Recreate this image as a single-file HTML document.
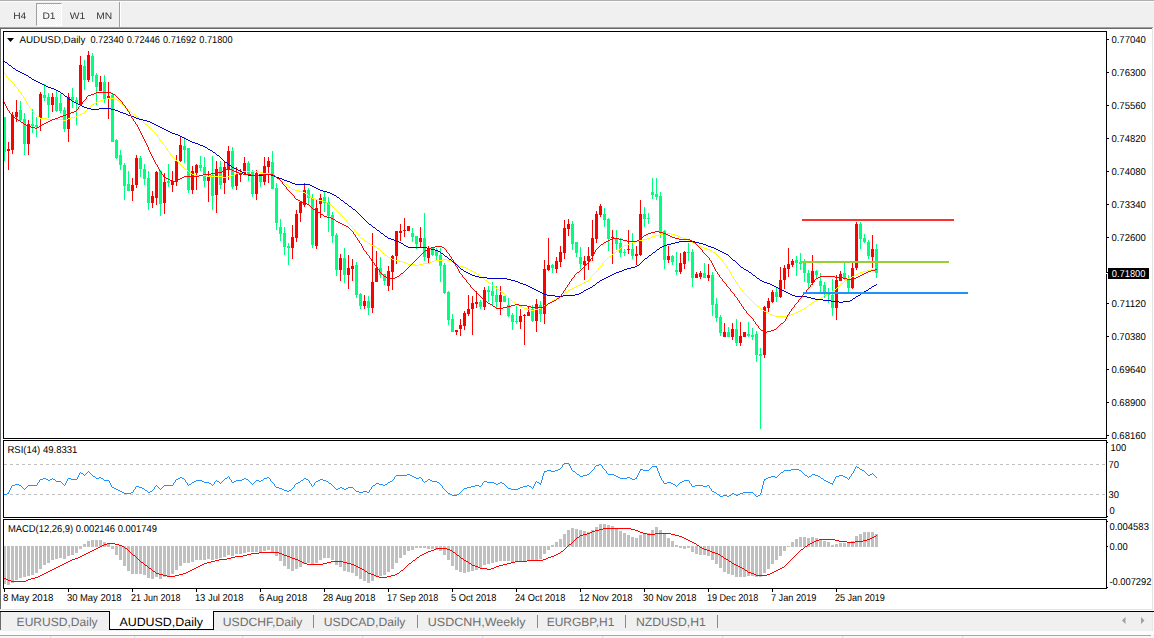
<!DOCTYPE html>
<html><head><meta charset="utf-8"><title>AUDUSD,Daily</title>
<style>
html,body{margin:0;padding:0;}
body{width:1154px;height:638px;overflow:hidden;background:#f0f0f0;font-family:"Liberation Sans",sans-serif;position:relative;}
.abs{position:absolute;}
.t{position:absolute;white-space:nowrap;color:#000;font-size:9.4px;line-height:10px;height:10px;}
.tf{position:absolute;white-space:nowrap;color:#222;font-size:10px;line-height:12px;}
.tab{position:absolute;white-space:nowrap;color:#6e6e6e;font-size:12px;line-height:14px;top:615px;}
</style></head><body>

<div class="abs" style="left:0;top:0;width:1154px;height:1px;background:#b0b0b0"></div>
<div class="abs" style="left:0;top:1px;width:1154px;height:1px;background:#fbfbfb"></div>
<div class="abs" style="left:36px;top:3px;width:24px;height:21px;background-color:#fff;background-image:conic-gradient(#fff 25%,#f0f0f0 0 50%,#fff 0 75%,#f0f0f0 0);background-size:2px 2px;border-top:1px solid #a0a0a0;border-left:1px solid #a0a0a0;border-right:1px solid #fff;border-bottom:1px solid #fff"></div>
<div class="abs" style="left:119px;top:2px;width:1px;height:25px;background:#a0a0a0"></div>
<div class="abs" style="left:120px;top:2px;width:1px;height:25px;background:#fff"></div>
<div class="abs" style="left:0;top:27px;width:1153px;height:1px;background:#a0a0a0"></div>
<div class="abs" style="left:0;top:28px;width:1152px;height:1px;background:#696969"></div>
<div class="abs" style="left:0;top:29px;width:1px;height:580px;background:#696969"></div>
<div class="abs" style="left:1px;top:29px;width:1151px;height:582px;background:#fff"></div>
<div class="abs" style="left:1152px;top:29px;width:1px;height:581px;background:#e3e3e3"></div>
<div class="abs" style="left:1153px;top:27px;width:1px;height:584px;background:#fff"></div>
<div class="abs" style="left:0;top:609px;width:1153px;height:1px;background:#e3e3e3"></div>
<div class="abs" style="left:0;top:610px;width:1154px;height:1px;background:#fff"></div>
<svg class="abs" style="left:0;top:0" width="1154" height="638" viewBox="0 0 1154 638" shape-rendering="crispEdges">
<line x1="4" y1="464.5" x2="1106" y2="464.5" stroke="#c0c0c0" stroke-width="1" stroke-dasharray="3,3"/>
<line x1="4" y1="494.5" x2="1106" y2="494.5" stroke="#c0c0c0" stroke-width="1" stroke-dasharray="3,3"/>
<rect x="1107" y="39" width="2" height="1" fill="#000"/>
<rect x="1107" y="72" width="2" height="1" fill="#000"/>
<rect x="1107" y="105" width="2" height="1" fill="#000"/>
<rect x="1107" y="138" width="2" height="1" fill="#000"/>
<rect x="1107" y="171" width="2" height="1" fill="#000"/>
<rect x="1107" y="204" width="2" height="1" fill="#000"/>
<rect x="1107" y="237" width="2" height="1" fill="#000"/>
<rect x="1107" y="303" width="2" height="1" fill="#000"/>
<rect x="1107" y="336" width="2" height="1" fill="#000"/>
<rect x="1107" y="369" width="2" height="1" fill="#000"/>
<rect x="1107" y="402" width="2" height="1" fill="#000"/>
<rect x="1107" y="435" width="2" height="1" fill="#000"/>
<rect x="1107" y="442" width="1" height="1" fill="#000"/>
<rect x="1107" y="516" width="1" height="1" fill="#000"/>
<rect x="1107" y="521" width="1" height="1" fill="#000"/>
<rect x="1107" y="546" width="1" height="1" fill="#000"/>
<rect x="1107" y="587" width="1" height="1" fill="#000"/>
<rect x="4" y="589" width="1" height="3" fill="#000"/>
<rect x="68" y="589" width="1" height="3" fill="#000"/>
<rect x="132" y="589" width="1" height="3" fill="#000"/>
<rect x="196" y="589" width="1" height="3" fill="#000"/>
<rect x="260" y="589" width="1" height="3" fill="#000"/>
<rect x="324" y="589" width="1" height="3" fill="#000"/>
<rect x="388" y="589" width="1" height="3" fill="#000"/>
<rect x="452" y="589" width="1" height="3" fill="#000"/>
<rect x="516" y="589" width="1" height="3" fill="#000"/>
<rect x="580" y="589" width="1" height="3" fill="#000"/>
<rect x="644" y="589" width="1" height="3" fill="#000"/>
<rect x="708" y="589" width="1" height="3" fill="#000"/>
<rect x="772" y="589" width="1" height="3" fill="#000"/>
<rect x="836" y="589" width="1" height="3" fill="#000"/>
<g id="hist"><rect x="3" y="546" width="3" height="38" fill="#c0c0c0"/><rect x="7" y="546" width="3" height="39" fill="#c0c0c0"/><rect x="11" y="546" width="3" height="37" fill="#c0c0c0"/><rect x="15" y="546" width="3" height="34" fill="#c0c0c0"/><rect x="19" y="546" width="3" height="32" fill="#c0c0c0"/><rect x="23" y="546" width="3" height="31" fill="#c0c0c0"/><rect x="27" y="546" width="3" height="30" fill="#c0c0c0"/><rect x="31" y="546" width="3" height="29" fill="#c0c0c0"/><rect x="35" y="546" width="3" height="27" fill="#c0c0c0"/><rect x="39" y="546" width="3" height="23" fill="#c0c0c0"/><rect x="43" y="546" width="3" height="19" fill="#c0c0c0"/><rect x="47" y="546" width="3" height="17" fill="#c0c0c0"/><rect x="51" y="546" width="3" height="14" fill="#c0c0c0"/><rect x="55" y="546" width="3" height="13" fill="#c0c0c0"/><rect x="59" y="546" width="3" height="12" fill="#c0c0c0"/><rect x="63" y="546" width="3" height="13" fill="#c0c0c0"/><rect x="67" y="546" width="3" height="10" fill="#c0c0c0"/><rect x="71" y="546" width="3" height="9" fill="#c0c0c0"/><rect x="75" y="546" width="3" height="7" fill="#c0c0c0"/><rect x="79" y="546" width="3" height="3" fill="#c0c0c0"/><rect x="83" y="544" width="3" height="3" fill="#c0c0c0"/><rect x="87" y="541" width="3" height="6" fill="#c0c0c0"/><rect x="91" y="540" width="3" height="7" fill="#c0c0c0"/><rect x="95" y="540" width="3" height="7" fill="#c0c0c0"/><rect x="99" y="540" width="3" height="7" fill="#c0c0c0"/><rect x="103" y="542" width="3" height="5" fill="#c0c0c0"/><rect x="107" y="544" width="3" height="3" fill="#c0c0c0"/><rect x="111" y="546" width="3" height="3" fill="#c0c0c0"/><rect x="115" y="546" width="3" height="9" fill="#c0c0c0"/><rect x="119" y="546" width="3" height="14" fill="#c0c0c0"/><rect x="123" y="546" width="3" height="20" fill="#c0c0c0"/><rect x="127" y="546" width="3" height="25" fill="#c0c0c0"/><rect x="131" y="546" width="3" height="28" fill="#c0c0c0"/><rect x="135" y="546" width="3" height="28" fill="#c0c0c0"/><rect x="139" y="546" width="3" height="28" fill="#c0c0c0"/><rect x="143" y="546" width="3" height="29" fill="#c0c0c0"/><rect x="147" y="546" width="3" height="32" fill="#c0c0c0"/><rect x="151" y="546" width="3" height="33" fill="#c0c0c0"/><rect x="155" y="546" width="3" height="31" fill="#c0c0c0"/><rect x="159" y="546" width="3" height="33" fill="#c0c0c0"/><rect x="163" y="546" width="3" height="31" fill="#c0c0c0"/><rect x="167" y="546" width="3" height="30" fill="#c0c0c0"/><rect x="171" y="546" width="3" height="28" fill="#c0c0c0"/><rect x="175" y="546" width="3" height="24" fill="#c0c0c0"/><rect x="179" y="546" width="3" height="20" fill="#c0c0c0"/><rect x="183" y="546" width="3" height="17" fill="#c0c0c0"/><rect x="187" y="546" width="3" height="17" fill="#c0c0c0"/><rect x="191" y="546" width="3" height="16" fill="#c0c0c0"/><rect x="195" y="546" width="3" height="14" fill="#c0c0c0"/><rect x="199" y="546" width="3" height="14" fill="#c0c0c0"/><rect x="203" y="546" width="3" height="14" fill="#c0c0c0"/><rect x="207" y="546" width="3" height="13" fill="#c0c0c0"/><rect x="211" y="546" width="3" height="14" fill="#c0c0c0"/><rect x="215" y="546" width="3" height="13" fill="#c0c0c0"/><rect x="219" y="546" width="3" height="12" fill="#c0c0c0"/><rect x="223" y="546" width="3" height="11" fill="#c0c0c0"/><rect x="227" y="546" width="3" height="9" fill="#c0c0c0"/><rect x="231" y="546" width="3" height="10" fill="#c0c0c0"/><rect x="235" y="546" width="3" height="8" fill="#c0c0c0"/><rect x="239" y="546" width="3" height="8" fill="#c0c0c0"/><rect x="243" y="546" width="3" height="7" fill="#c0c0c0"/><rect x="247" y="546" width="3" height="6" fill="#c0c0c0"/><rect x="251" y="546" width="3" height="6" fill="#c0c0c0"/><rect x="255" y="546" width="3" height="6" fill="#c0c0c0"/><rect x="259" y="546" width="3" height="6" fill="#c0c0c0"/><rect x="263" y="546" width="3" height="5" fill="#c0c0c0"/><rect x="267" y="546" width="3" height="4" fill="#c0c0c0"/><rect x="271" y="546" width="3" height="6" fill="#c0c0c0"/><rect x="275" y="546" width="3" height="10" fill="#c0c0c0"/><rect x="279" y="546" width="3" height="15" fill="#c0c0c0"/><rect x="283" y="546" width="3" height="20" fill="#c0c0c0"/><rect x="287" y="546" width="3" height="23" fill="#c0c0c0"/><rect x="291" y="546" width="3" height="25" fill="#c0c0c0"/><rect x="295" y="546" width="3" height="23" fill="#c0c0c0"/><rect x="299" y="546" width="3" height="21" fill="#c0c0c0"/><rect x="303" y="546" width="3" height="18" fill="#c0c0c0"/><rect x="307" y="546" width="3" height="17" fill="#c0c0c0"/><rect x="311" y="546" width="3" height="18" fill="#c0c0c0"/><rect x="315" y="546" width="3" height="17" fill="#c0c0c0"/><rect x="319" y="546" width="3" height="14" fill="#c0c0c0"/><rect x="323" y="546" width="3" height="12" fill="#c0c0c0"/><rect x="327" y="546" width="3" height="12" fill="#c0c0c0"/><rect x="331" y="546" width="3" height="14" fill="#c0c0c0"/><rect x="335" y="546" width="3" height="19" fill="#c0c0c0"/><rect x="339" y="546" width="3" height="21" fill="#c0c0c0"/><rect x="343" y="546" width="3" height="25" fill="#c0c0c0"/><rect x="347" y="546" width="3" height="26" fill="#c0c0c0"/><rect x="351" y="546" width="3" height="27" fill="#c0c0c0"/><rect x="355" y="546" width="3" height="30" fill="#c0c0c0"/><rect x="359" y="546" width="3" height="33" fill="#c0c0c0"/><rect x="363" y="546" width="3" height="35" fill="#c0c0c0"/><rect x="367" y="546" width="3" height="37" fill="#c0c0c0"/><rect x="371" y="546" width="3" height="35" fill="#c0c0c0"/><rect x="375" y="546" width="3" height="31" fill="#c0c0c0"/><rect x="379" y="546" width="3" height="30" fill="#c0c0c0"/><rect x="383" y="546" width="3" height="29" fill="#c0c0c0"/><rect x="387" y="546" width="3" height="26" fill="#c0c0c0"/><rect x="391" y="546" width="3" height="23" fill="#c0c0c0"/><rect x="395" y="546" width="3" height="17" fill="#c0c0c0"/><rect x="399" y="546" width="3" height="12" fill="#c0c0c0"/><rect x="403" y="546" width="3" height="9" fill="#c0c0c0"/><rect x="407" y="546" width="3" height="5" fill="#c0c0c0"/><rect x="411" y="546" width="3" height="4" fill="#c0c0c0"/><rect x="415" y="546" width="3" height="2" fill="#c0c0c0"/><rect x="419" y="546" width="3" height="2" fill="#c0c0c0"/><rect x="423" y="546" width="3" height="2" fill="#c0c0c0"/><rect x="427" y="546" width="3" height="3" fill="#c0c0c0"/><rect x="431" y="546" width="3" height="3" fill="#c0c0c0"/><rect x="435" y="546" width="3" height="4" fill="#c0c0c0"/><rect x="439" y="546" width="3" height="5" fill="#c0c0c0"/><rect x="443" y="546" width="3" height="9" fill="#c0c0c0"/><rect x="447" y="546" width="3" height="14" fill="#c0c0c0"/><rect x="451" y="546" width="3" height="20" fill="#c0c0c0"/><rect x="455" y="546" width="3" height="24" fill="#c0c0c0"/><rect x="459" y="546" width="3" height="26" fill="#c0c0c0"/><rect x="463" y="546" width="3" height="27" fill="#c0c0c0"/><rect x="467" y="546" width="3" height="26" fill="#c0c0c0"/><rect x="471" y="546" width="3" height="25" fill="#c0c0c0"/><rect x="475" y="546" width="3" height="24" fill="#c0c0c0"/><rect x="479" y="546" width="3" height="22" fill="#c0c0c0"/><rect x="483" y="546" width="3" height="19" fill="#c0c0c0"/><rect x="487" y="546" width="3" height="18" fill="#c0c0c0"/><rect x="491" y="546" width="3" height="17" fill="#c0c0c0"/><rect x="495" y="546" width="3" height="16" fill="#c0c0c0"/><rect x="499" y="546" width="3" height="15" fill="#c0c0c0"/><rect x="503" y="546" width="3" height="15" fill="#c0c0c0"/><rect x="507" y="546" width="3" height="15" fill="#c0c0c0"/><rect x="511" y="546" width="3" height="16" fill="#c0c0c0"/><rect x="515" y="546" width="3" height="16" fill="#c0c0c0"/><rect x="519" y="546" width="3" height="16" fill="#c0c0c0"/><rect x="523" y="546" width="3" height="15" fill="#c0c0c0"/><rect x="527" y="546" width="3" height="15" fill="#c0c0c0"/><rect x="531" y="546" width="3" height="15" fill="#c0c0c0"/><rect x="535" y="546" width="3" height="14" fill="#c0c0c0"/><rect x="539" y="546" width="3" height="13" fill="#c0c0c0"/><rect x="543" y="546" width="3" height="8" fill="#c0c0c0"/><rect x="547" y="546" width="3" height="4" fill="#c0c0c0"/><rect x="551" y="545" width="3" height="2" fill="#c0c0c0"/><rect x="555" y="542" width="3" height="5" fill="#c0c0c0"/><rect x="559" y="539" width="3" height="8" fill="#c0c0c0"/><rect x="563" y="534" width="3" height="13" fill="#c0c0c0"/><rect x="567" y="530" width="3" height="17" fill="#c0c0c0"/><rect x="571" y="528" width="3" height="19" fill="#c0c0c0"/><rect x="575" y="529" width="3" height="18" fill="#c0c0c0"/><rect x="579" y="530" width="3" height="17" fill="#c0c0c0"/><rect x="583" y="531" width="3" height="16" fill="#c0c0c0"/><rect x="587" y="532" width="3" height="15" fill="#c0c0c0"/><rect x="591" y="530" width="3" height="17" fill="#c0c0c0"/><rect x="595" y="527" width="3" height="20" fill="#c0c0c0"/><rect x="599" y="524" width="3" height="23" fill="#c0c0c0"/><rect x="603" y="524" width="3" height="23" fill="#c0c0c0"/><rect x="607" y="525" width="3" height="22" fill="#c0c0c0"/><rect x="611" y="526" width="3" height="21" fill="#c0c0c0"/><rect x="615" y="528" width="3" height="19" fill="#c0c0c0"/><rect x="619" y="531" width="3" height="16" fill="#c0c0c0"/><rect x="623" y="533" width="3" height="14" fill="#c0c0c0"/><rect x="627" y="535" width="3" height="12" fill="#c0c0c0"/><rect x="631" y="537" width="3" height="10" fill="#c0c0c0"/><rect x="635" y="538" width="3" height="9" fill="#c0c0c0"/><rect x="639" y="535" width="3" height="12" fill="#c0c0c0"/><rect x="643" y="534" width="3" height="13" fill="#c0c0c0"/><rect x="647" y="533" width="3" height="14" fill="#c0c0c0"/><rect x="651" y="530" width="3" height="17" fill="#c0c0c0"/><rect x="655" y="527" width="3" height="20" fill="#c0c0c0"/><rect x="659" y="530" width="3" height="17" fill="#c0c0c0"/><rect x="663" y="533" width="3" height="14" fill="#c0c0c0"/><rect x="667" y="538" width="3" height="9" fill="#c0c0c0"/><rect x="671" y="541" width="3" height="6" fill="#c0c0c0"/><rect x="675" y="545" width="3" height="2" fill="#c0c0c0"/><rect x="679" y="546" width="3" height="2" fill="#c0c0c0"/><rect x="683" y="546" width="3" height="3" fill="#c0c0c0"/><rect x="687" y="546" width="3" height="2" fill="#c0c0c0"/><rect x="691" y="546" width="3" height="6" fill="#c0c0c0"/><rect x="695" y="546" width="3" height="8" fill="#c0c0c0"/><rect x="699" y="546" width="3" height="9" fill="#c0c0c0"/><rect x="703" y="546" width="3" height="9" fill="#c0c0c0"/><rect x="707" y="546" width="3" height="10" fill="#c0c0c0"/><rect x="711" y="546" width="3" height="14" fill="#c0c0c0"/><rect x="715" y="546" width="3" height="18" fill="#c0c0c0"/><rect x="719" y="546" width="3" height="22" fill="#c0c0c0"/><rect x="723" y="546" width="3" height="26" fill="#c0c0c0"/><rect x="727" y="546" width="3" height="28" fill="#c0c0c0"/><rect x="731" y="546" width="3" height="29" fill="#c0c0c0"/><rect x="735" y="546" width="3" height="31" fill="#c0c0c0"/><rect x="739" y="546" width="3" height="31" fill="#c0c0c0"/><rect x="743" y="546" width="3" height="31" fill="#c0c0c0"/><rect x="747" y="546" width="3" height="30" fill="#c0c0c0"/><rect x="751" y="546" width="3" height="30" fill="#c0c0c0"/><rect x="755" y="546" width="3" height="31" fill="#c0c0c0"/><rect x="759" y="546" width="3" height="31" fill="#c0c0c0"/><rect x="763" y="546" width="3" height="27" fill="#c0c0c0"/><rect x="767" y="546" width="3" height="23" fill="#c0c0c0"/><rect x="771" y="546" width="3" height="18" fill="#c0c0c0"/><rect x="775" y="546" width="3" height="14" fill="#c0c0c0"/><rect x="779" y="546" width="3" height="10" fill="#c0c0c0"/><rect x="783" y="546" width="3" height="5" fill="#c0c0c0"/><rect x="787" y="546" width="3" height="1" fill="#c0c0c0"/><rect x="791" y="542" width="3" height="5" fill="#c0c0c0"/><rect x="795" y="539" width="3" height="8" fill="#c0c0c0"/><rect x="799" y="537" width="3" height="10" fill="#c0c0c0"/><rect x="803" y="537" width="3" height="10" fill="#c0c0c0"/><rect x="807" y="538" width="3" height="9" fill="#c0c0c0"/><rect x="811" y="537" width="3" height="10" fill="#c0c0c0"/><rect x="815" y="538" width="3" height="9" fill="#c0c0c0"/><rect x="819" y="540" width="3" height="7" fill="#c0c0c0"/><rect x="823" y="541" width="3" height="6" fill="#c0c0c0"/><rect x="827" y="542" width="3" height="5" fill="#c0c0c0"/><rect x="831" y="545" width="3" height="2" fill="#c0c0c0"/><rect x="835" y="544" width="3" height="3" fill="#c0c0c0"/><rect x="839" y="543" width="3" height="4" fill="#c0c0c0"/><rect x="843" y="543" width="3" height="4" fill="#c0c0c0"/><rect x="847" y="543" width="3" height="4" fill="#c0c0c0"/><rect x="851" y="541" width="3" height="6" fill="#c0c0c0"/><rect x="855" y="536" width="3" height="11" fill="#c0c0c0"/><rect x="859" y="534" width="3" height="13" fill="#c0c0c0"/><rect x="863" y="532" width="3" height="15" fill="#c0c0c0"/><rect x="867" y="532" width="3" height="15" fill="#c0c0c0"/><rect x="871" y="532" width="3" height="15" fill="#c0c0c0"/><rect x="875" y="534" width="3" height="13" fill="#c0c0c0"/></g>
<g id="candles"><rect x="4" y="117" width="1" height="44" fill="#00ff7f"/><rect x="3" y="117" width="3" height="35" fill="#00ff7f"/><rect x="8" y="142" width="1" height="28" fill="#ff0000"/><rect x="7" y="149" width="3" height="2" fill="#ff0000"/><rect x="12" y="112" width="1" height="42" fill="#ff0000"/><rect x="11" y="115" width="3" height="35" fill="#ff0000"/><rect x="16" y="100" width="1" height="22" fill="#ff0000"/><rect x="15" y="112" width="3" height="5" fill="#ff0000"/><rect x="20" y="101" width="1" height="20" fill="#00ff7f"/><rect x="19" y="110" width="3" height="10" fill="#00ff7f"/><rect x="24" y="113" width="1" height="42" fill="#00ff7f"/><rect x="23" y="119" width="3" height="25" fill="#00ff7f"/><rect x="28" y="120" width="1" height="35" fill="#ff0000"/><rect x="27" y="124" width="3" height="20" fill="#ff0000"/><rect x="32" y="109" width="1" height="24" fill="#00ff7f"/><rect x="31" y="124" width="3" height="2" fill="#00ff7f"/><rect x="36" y="117" width="1" height="20" fill="#00ff7f"/><rect x="35" y="125" width="3" height="2" fill="#00ff7f"/><rect x="40" y="92" width="1" height="39" fill="#ff0000"/><rect x="39" y="94" width="3" height="24" fill="#ff0000"/><rect x="44" y="84" width="1" height="17" fill="#00ff7f"/><rect x="43" y="95" width="3" height="3" fill="#00ff7f"/><rect x="48" y="93" width="1" height="25" fill="#00ff7f"/><rect x="47" y="97" width="3" height="8" fill="#00ff7f"/><rect x="52" y="93" width="1" height="19" fill="#ff0000"/><rect x="51" y="97" width="3" height="8" fill="#ff0000"/><rect x="56" y="90" width="1" height="22" fill="#00ff7f"/><rect x="55" y="97" width="3" height="14" fill="#00ff7f"/><rect x="60" y="94" width="1" height="19" fill="#00ff7f"/><rect x="59" y="103" width="3" height="8" fill="#00ff7f"/><rect x="64" y="107" width="1" height="25" fill="#00ff7f"/><rect x="63" y="110" width="3" height="19" fill="#00ff7f"/><rect x="68" y="93" width="1" height="49" fill="#ff0000"/><rect x="67" y="97" width="3" height="32" fill="#ff0000"/><rect x="72" y="88" width="1" height="20" fill="#00ff7f"/><rect x="71" y="97" width="3" height="3" fill="#00ff7f"/><rect x="76" y="97" width="1" height="28" fill="#00ff7f"/><rect x="75" y="100" width="3" height="3" fill="#00ff7f"/><rect x="80" y="56" width="1" height="49" fill="#ff0000"/><rect x="79" y="65" width="3" height="40" fill="#ff0000"/><rect x="84" y="60" width="1" height="30" fill="#00ff7f"/><rect x="83" y="66" width="3" height="14" fill="#00ff7f"/><rect x="88" y="51" width="1" height="31" fill="#ff0000"/><rect x="87" y="55" width="3" height="25" fill="#ff0000"/><rect x="92" y="53" width="1" height="29" fill="#00ff7f"/><rect x="91" y="56" width="3" height="20" fill="#00ff7f"/><rect x="96" y="73" width="1" height="32" fill="#00ff7f"/><rect x="95" y="75" width="3" height="12" fill="#00ff7f"/><rect x="100" y="76" width="1" height="15" fill="#ff0000"/><rect x="99" y="82" width="3" height="9" fill="#ff0000"/><rect x="104" y="75" width="1" height="28" fill="#00ff7f"/><rect x="103" y="82" width="3" height="17" fill="#00ff7f"/><rect x="108" y="82" width="1" height="37" fill="#ff0000"/><rect x="107" y="96" width="3" height="2" fill="#ff0000"/><rect x="112" y="93" width="1" height="49" fill="#00ff7f"/><rect x="111" y="95" width="3" height="47" fill="#00ff7f"/><rect x="116" y="139" width="1" height="20" fill="#00ff7f"/><rect x="115" y="140" width="3" height="18" fill="#00ff7f"/><rect x="120" y="150" width="1" height="20" fill="#00ff7f"/><rect x="119" y="155" width="3" height="10" fill="#00ff7f"/><rect x="124" y="163" width="1" height="37" fill="#00ff7f"/><rect x="123" y="165" width="3" height="21" fill="#00ff7f"/><rect x="128" y="171" width="1" height="20" fill="#00ff7f"/><rect x="127" y="184" width="3" height="7" fill="#00ff7f"/><rect x="132" y="178" width="1" height="23" fill="#ff0000"/><rect x="131" y="185" width="3" height="6" fill="#ff0000"/><rect x="136" y="155" width="1" height="33" fill="#ff0000"/><rect x="135" y="158" width="3" height="27" fill="#ff0000"/><rect x="140" y="156" width="1" height="21" fill="#00ff7f"/><rect x="139" y="158" width="3" height="11" fill="#00ff7f"/><rect x="144" y="164" width="1" height="21" fill="#00ff7f"/><rect x="143" y="169" width="3" height="10" fill="#00ff7f"/><rect x="148" y="171" width="1" height="39" fill="#00ff7f"/><rect x="147" y="178" width="3" height="25" fill="#00ff7f"/><rect x="152" y="191" width="1" height="17" fill="#ff0000"/><rect x="151" y="196" width="3" height="7" fill="#ff0000"/><rect x="156" y="171" width="1" height="34" fill="#ff0000"/><rect x="155" y="172" width="3" height="26" fill="#ff0000"/><rect x="160" y="170" width="1" height="46" fill="#00ff7f"/><rect x="159" y="171" width="3" height="33" fill="#00ff7f"/><rect x="164" y="173" width="1" height="41" fill="#ff0000"/><rect x="163" y="182" width="3" height="21" fill="#ff0000"/><rect x="168" y="164" width="1" height="23" fill="#00ff7f"/><rect x="167" y="181" width="3" height="2" fill="#00ff7f"/><rect x="172" y="171" width="1" height="21" fill="#ff0000"/><rect x="171" y="181" width="3" height="4" fill="#ff0000"/><rect x="176" y="155" width="1" height="31" fill="#ff0000"/><rect x="175" y="161" width="3" height="21" fill="#ff0000"/><rect x="180" y="136" width="1" height="26" fill="#ff0000"/><rect x="179" y="145" width="3" height="16" fill="#ff0000"/><rect x="184" y="137" width="1" height="26" fill="#00ff7f"/><rect x="183" y="146" width="3" height="4" fill="#00ff7f"/><rect x="188" y="148" width="1" height="45" fill="#00ff7f"/><rect x="187" y="148" width="3" height="42" fill="#00ff7f"/><rect x="192" y="166" width="1" height="28" fill="#ff0000"/><rect x="191" y="171" width="3" height="19" fill="#ff0000"/><rect x="196" y="164" width="1" height="26" fill="#ff0000"/><rect x="195" y="165" width="3" height="8" fill="#ff0000"/><rect x="200" y="156" width="1" height="15" fill="#00ff7f"/><rect x="199" y="165" width="3" height="3" fill="#00ff7f"/><rect x="204" y="157" width="1" height="30" fill="#00ff7f"/><rect x="203" y="167" width="3" height="14" fill="#00ff7f"/><rect x="208" y="171" width="1" height="31" fill="#ff0000"/><rect x="207" y="176" width="3" height="5" fill="#ff0000"/><rect x="212" y="156" width="1" height="54" fill="#00ff7f"/><rect x="211" y="175" width="3" height="21" fill="#00ff7f"/><rect x="216" y="161" width="1" height="52" fill="#ff0000"/><rect x="215" y="169" width="3" height="26" fill="#ff0000"/><rect x="220" y="161" width="1" height="28" fill="#00ff7f"/><rect x="219" y="167" width="3" height="18" fill="#00ff7f"/><rect x="224" y="162" width="1" height="32" fill="#ff0000"/><rect x="223" y="167" width="3" height="16" fill="#ff0000"/><rect x="228" y="146" width="1" height="34" fill="#ff0000"/><rect x="227" y="151" width="3" height="19" fill="#ff0000"/><rect x="232" y="147" width="1" height="42" fill="#00ff7f"/><rect x="231" y="151" width="3" height="36" fill="#00ff7f"/><rect x="236" y="167" width="1" height="23" fill="#ff0000"/><rect x="235" y="174" width="3" height="12" fill="#ff0000"/><rect x="240" y="169" width="1" height="13" fill="#ff0000"/><rect x="239" y="173" width="3" height="2" fill="#ff0000"/><rect x="244" y="157" width="1" height="18" fill="#ff0000"/><rect x="243" y="163" width="3" height="10" fill="#ff0000"/><rect x="248" y="161" width="1" height="20" fill="#00ff7f"/><rect x="247" y="163" width="3" height="11" fill="#00ff7f"/><rect x="252" y="170" width="1" height="27" fill="#00ff7f"/><rect x="251" y="172" width="3" height="22" fill="#00ff7f"/><rect x="256" y="170" width="1" height="30" fill="#ff0000"/><rect x="255" y="173" width="3" height="21" fill="#ff0000"/><rect x="260" y="174" width="1" height="13" fill="#00ff7f"/><rect x="259" y="176" width="3" height="6" fill="#00ff7f"/><rect x="264" y="157" width="1" height="28" fill="#ff0000"/><rect x="263" y="166" width="3" height="16" fill="#ff0000"/><rect x="268" y="157" width="1" height="26" fill="#ff0000"/><rect x="267" y="161" width="3" height="6" fill="#ff0000"/><rect x="272" y="151" width="1" height="38" fill="#00ff7f"/><rect x="271" y="162" width="3" height="27" fill="#00ff7f"/><rect x="276" y="183" width="1" height="47" fill="#00ff7f"/><rect x="275" y="188" width="3" height="35" fill="#00ff7f"/><rect x="280" y="219" width="1" height="22" fill="#00ff7f"/><rect x="279" y="227" width="3" height="7" fill="#00ff7f"/><rect x="284" y="227" width="1" height="28" fill="#00ff7f"/><rect x="283" y="233" width="3" height="14" fill="#00ff7f"/><rect x="288" y="243" width="1" height="22" fill="#00ff7f"/><rect x="287" y="246" width="3" height="2" fill="#00ff7f"/><rect x="292" y="225" width="1" height="34" fill="#ff0000"/><rect x="291" y="237" width="3" height="11" fill="#ff0000"/><rect x="296" y="210" width="1" height="32" fill="#ff0000"/><rect x="295" y="214" width="3" height="24" fill="#ff0000"/><rect x="300" y="201" width="1" height="21" fill="#ff0000"/><rect x="299" y="202" width="3" height="11" fill="#ff0000"/><rect x="304" y="183" width="1" height="24" fill="#ff0000"/><rect x="303" y="190" width="3" height="15" fill="#ff0000"/><rect x="308" y="188" width="1" height="16" fill="#00ff7f"/><rect x="307" y="190" width="3" height="8" fill="#00ff7f"/><rect x="312" y="194" width="1" height="54" fill="#00ff7f"/><rect x="311" y="198" width="3" height="47" fill="#00ff7f"/><rect x="316" y="200" width="1" height="49" fill="#ff0000"/><rect x="315" y="208" width="3" height="38" fill="#ff0000"/><rect x="320" y="194" width="1" height="24" fill="#ff0000"/><rect x="319" y="198" width="3" height="6" fill="#ff0000"/><rect x="324" y="192" width="1" height="20" fill="#00ff7f"/><rect x="323" y="197" width="3" height="6" fill="#00ff7f"/><rect x="328" y="197" width="1" height="35" fill="#00ff7f"/><rect x="327" y="202" width="3" height="14" fill="#00ff7f"/><rect x="332" y="212" width="1" height="31" fill="#00ff7f"/><rect x="331" y="215" width="3" height="21" fill="#00ff7f"/><rect x="336" y="233" width="1" height="43" fill="#00ff7f"/><rect x="335" y="235" width="3" height="35" fill="#00ff7f"/><rect x="340" y="254" width="1" height="27" fill="#ff0000"/><rect x="339" y="258" width="3" height="12" fill="#ff0000"/><rect x="344" y="248" width="1" height="35" fill="#00ff7f"/><rect x="343" y="258" width="3" height="17" fill="#00ff7f"/><rect x="348" y="255" width="1" height="34" fill="#ff0000"/><rect x="347" y="268" width="3" height="7" fill="#ff0000"/><rect x="352" y="259" width="1" height="22" fill="#ff0000"/><rect x="351" y="266" width="3" height="3" fill="#ff0000"/><rect x="356" y="262" width="1" height="36" fill="#00ff7f"/><rect x="355" y="265" width="3" height="30" fill="#00ff7f"/><rect x="360" y="293" width="1" height="16" fill="#00ff7f"/><rect x="359" y="294" width="3" height="12" fill="#00ff7f"/><rect x="364" y="295" width="1" height="14" fill="#ff0000"/><rect x="363" y="301" width="3" height="5" fill="#ff0000"/><rect x="368" y="296" width="1" height="19" fill="#00ff7f"/><rect x="367" y="301" width="3" height="7" fill="#00ff7f"/><rect x="372" y="233" width="1" height="80" fill="#ff0000"/><rect x="371" y="282" width="3" height="26" fill="#ff0000"/><rect x="376" y="251" width="1" height="31" fill="#ff0000"/><rect x="375" y="268" width="3" height="14" fill="#ff0000"/><rect x="380" y="257" width="1" height="21" fill="#00ff7f"/><rect x="379" y="268" width="3" height="7" fill="#00ff7f"/><rect x="384" y="274" width="1" height="11" fill="#00ff7f"/><rect x="383" y="274" width="3" height="7" fill="#00ff7f"/><rect x="388" y="266" width="1" height="25" fill="#ff0000"/><rect x="387" y="271" width="3" height="15" fill="#ff0000"/><rect x="392" y="255" width="1" height="35" fill="#ff0000"/><rect x="391" y="256" width="3" height="16" fill="#ff0000"/><rect x="396" y="231" width="1" height="33" fill="#ff0000"/><rect x="395" y="231" width="3" height="25" fill="#ff0000"/><rect x="400" y="224" width="1" height="17" fill="#ff0000"/><rect x="399" y="231" width="3" height="2" fill="#ff0000"/><rect x="404" y="218" width="1" height="19" fill="#ff0000"/><rect x="403" y="230" width="3" height="1" fill="#ff0000"/><rect x="408" y="226" width="1" height="5" fill="#ff0000"/><rect x="407" y="226" width="3" height="5" fill="#ff0000"/><rect x="412" y="228" width="1" height="14" fill="#00ff7f"/><rect x="411" y="233" width="3" height="4" fill="#00ff7f"/><rect x="416" y="236" width="1" height="13" fill="#00ff7f"/><rect x="415" y="236" width="3" height="8" fill="#00ff7f"/><rect x="420" y="227" width="1" height="21" fill="#ff0000"/><rect x="419" y="238" width="3" height="4" fill="#ff0000"/><rect x="424" y="213" width="1" height="48" fill="#00ff7f"/><rect x="423" y="238" width="3" height="19" fill="#00ff7f"/><rect x="428" y="246" width="1" height="18" fill="#ff0000"/><rect x="427" y="248" width="3" height="10" fill="#ff0000"/><rect x="432" y="247" width="1" height="9" fill="#00ff7f"/><rect x="431" y="248" width="3" height="7" fill="#00ff7f"/><rect x="436" y="248" width="1" height="13" fill="#00ff7f"/><rect x="435" y="251" width="3" height="5" fill="#00ff7f"/><rect x="440" y="248" width="1" height="34" fill="#00ff7f"/><rect x="439" y="255" width="3" height="11" fill="#00ff7f"/><rect x="444" y="263" width="1" height="31" fill="#00ff7f"/><rect x="443" y="265" width="3" height="28" fill="#00ff7f"/><rect x="448" y="291" width="1" height="34" fill="#00ff7f"/><rect x="447" y="292" width="3" height="28" fill="#00ff7f"/><rect x="452" y="314" width="1" height="18" fill="#00ff7f"/><rect x="451" y="319" width="3" height="13" fill="#00ff7f"/><rect x="456" y="330" width="1" height="5" fill="#ff0000"/><rect x="455" y="330" width="3" height="2" fill="#ff0000"/><rect x="460" y="319" width="1" height="17" fill="#ff0000"/><rect x="459" y="325" width="3" height="4" fill="#ff0000"/><rect x="464" y="311" width="1" height="19" fill="#ff0000"/><rect x="463" y="313" width="3" height="13" fill="#ff0000"/><rect x="468" y="295" width="1" height="21" fill="#ff0000"/><rect x="467" y="309" width="3" height="5" fill="#ff0000"/><rect x="472" y="296" width="1" height="39" fill="#ff0000"/><rect x="471" y="303" width="3" height="6" fill="#ff0000"/><rect x="476" y="291" width="1" height="17" fill="#ff0000"/><rect x="475" y="302" width="3" height="2" fill="#ff0000"/><rect x="480" y="300" width="1" height="9" fill="#00ff7f"/><rect x="479" y="302" width="3" height="5" fill="#00ff7f"/><rect x="484" y="287" width="1" height="23" fill="#ff0000"/><rect x="483" y="290" width="3" height="17" fill="#ff0000"/><rect x="488" y="286" width="1" height="16" fill="#00ff7f"/><rect x="487" y="290" width="3" height="2" fill="#00ff7f"/><rect x="492" y="282" width="1" height="23" fill="#00ff7f"/><rect x="491" y="291" width="3" height="5" fill="#00ff7f"/><rect x="496" y="286" width="1" height="22" fill="#00ff7f"/><rect x="495" y="295" width="3" height="7" fill="#00ff7f"/><rect x="500" y="286" width="1" height="29" fill="#ff0000"/><rect x="499" y="295" width="3" height="7" fill="#ff0000"/><rect x="504" y="296" width="1" height="6" fill="#00ff7f"/><rect x="503" y="296" width="3" height="6" fill="#00ff7f"/><rect x="508" y="298" width="1" height="19" fill="#00ff7f"/><rect x="507" y="305" width="3" height="11" fill="#00ff7f"/><rect x="512" y="313" width="1" height="17" fill="#00ff7f"/><rect x="511" y="315" width="3" height="7" fill="#00ff7f"/><rect x="516" y="306" width="1" height="18" fill="#00ff7f"/><rect x="515" y="321" width="3" height="1" fill="#00ff7f"/><rect x="520" y="309" width="1" height="20" fill="#ff0000"/><rect x="519" y="316" width="3" height="6" fill="#ff0000"/><rect x="524" y="314" width="1" height="31" fill="#ff0000"/><rect x="523" y="315" width="3" height="1" fill="#ff0000"/><rect x="528" y="306" width="1" height="10" fill="#ff0000"/><rect x="527" y="312" width="3" height="4" fill="#ff0000"/><rect x="532" y="305" width="1" height="17" fill="#00ff7f"/><rect x="531" y="309" width="3" height="12" fill="#00ff7f"/><rect x="536" y="299" width="1" height="33" fill="#ff0000"/><rect x="535" y="304" width="3" height="17" fill="#ff0000"/><rect x="540" y="301" width="1" height="21" fill="#00ff7f"/><rect x="539" y="305" width="3" height="9" fill="#00ff7f"/><rect x="544" y="260" width="1" height="64" fill="#ff0000"/><rect x="543" y="269" width="3" height="45" fill="#ff0000"/><rect x="548" y="238" width="1" height="33" fill="#ff0000"/><rect x="547" y="265" width="3" height="5" fill="#ff0000"/><rect x="552" y="264" width="1" height="9" fill="#00ff7f"/><rect x="551" y="265" width="3" height="3" fill="#00ff7f"/><rect x="556" y="257" width="1" height="16" fill="#ff0000"/><rect x="555" y="261" width="3" height="8" fill="#ff0000"/><rect x="560" y="246" width="1" height="21" fill="#ff0000"/><rect x="559" y="252" width="3" height="10" fill="#ff0000"/><rect x="564" y="220" width="1" height="39" fill="#ff0000"/><rect x="563" y="228" width="3" height="25" fill="#ff0000"/><rect x="568" y="219" width="1" height="17" fill="#ff0000"/><rect x="567" y="224" width="3" height="5" fill="#ff0000"/><rect x="572" y="221" width="1" height="29" fill="#00ff7f"/><rect x="571" y="224" width="3" height="20" fill="#00ff7f"/><rect x="576" y="242" width="1" height="15" fill="#00ff7f"/><rect x="575" y="242" width="3" height="11" fill="#00ff7f"/><rect x="580" y="247" width="1" height="22" fill="#00ff7f"/><rect x="579" y="257" width="3" height="7" fill="#00ff7f"/><rect x="584" y="256" width="1" height="24" fill="#ff0000"/><rect x="583" y="261" width="3" height="4" fill="#ff0000"/><rect x="588" y="247" width="1" height="23" fill="#ff0000"/><rect x="587" y="256" width="3" height="5" fill="#ff0000"/><rect x="592" y="220" width="1" height="41" fill="#ff0000"/><rect x="591" y="238" width="3" height="18" fill="#ff0000"/><rect x="596" y="211" width="1" height="32" fill="#ff0000"/><rect x="595" y="214" width="3" height="25" fill="#ff0000"/><rect x="600" y="204" width="1" height="13" fill="#ff0000"/><rect x="599" y="206" width="3" height="9" fill="#ff0000"/><rect x="604" y="208" width="1" height="19" fill="#00ff7f"/><rect x="603" y="214" width="3" height="6" fill="#00ff7f"/><rect x="608" y="218" width="1" height="33" fill="#00ff7f"/><rect x="607" y="219" width="3" height="20" fill="#00ff7f"/><rect x="612" y="230" width="1" height="34" fill="#ff0000"/><rect x="611" y="237" width="3" height="1" fill="#ff0000"/><rect x="616" y="230" width="1" height="20" fill="#00ff7f"/><rect x="615" y="238" width="3" height="6" fill="#00ff7f"/><rect x="620" y="238" width="1" height="19" fill="#00ff7f"/><rect x="619" y="243" width="3" height="10" fill="#00ff7f"/><rect x="624" y="249" width="1" height="7" fill="#00ff7f"/><rect x="623" y="252" width="3" height="1" fill="#00ff7f"/><rect x="628" y="230" width="1" height="24" fill="#ff0000"/><rect x="627" y="249" width="3" height="1" fill="#ff0000"/><rect x="632" y="233" width="1" height="26" fill="#00ff7f"/><rect x="631" y="249" width="3" height="7" fill="#00ff7f"/><rect x="636" y="246" width="1" height="19" fill="#ff0000"/><rect x="635" y="254" width="3" height="2" fill="#ff0000"/><rect x="640" y="200" width="1" height="56" fill="#ff0000"/><rect x="639" y="214" width="3" height="41" fill="#ff0000"/><rect x="644" y="207" width="1" height="20" fill="#00ff7f"/><rect x="643" y="214" width="3" height="5" fill="#00ff7f"/><rect x="648" y="213" width="1" height="11" fill="#00ff7f"/><rect x="647" y="218" width="3" height="1" fill="#00ff7f"/><rect x="652" y="178" width="1" height="21" fill="#00ff7f"/><rect x="651" y="192" width="3" height="3" fill="#00ff7f"/><rect x="656" y="178" width="1" height="22" fill="#00ff7f"/><rect x="655" y="194" width="3" height="3" fill="#00ff7f"/><rect x="660" y="192" width="1" height="46" fill="#00ff7f"/><rect x="659" y="196" width="3" height="36" fill="#00ff7f"/><rect x="664" y="230" width="1" height="39" fill="#00ff7f"/><rect x="663" y="231" width="3" height="29" fill="#00ff7f"/><rect x="668" y="246" width="1" height="17" fill="#ff0000"/><rect x="667" y="256" width="3" height="4" fill="#ff0000"/><rect x="672" y="255" width="1" height="10" fill="#00ff7f"/><rect x="671" y="256" width="3" height="6" fill="#00ff7f"/><rect x="676" y="252" width="1" height="23" fill="#00ff7f"/><rect x="675" y="270" width="3" height="2" fill="#00ff7f"/><rect x="680" y="253" width="1" height="21" fill="#ff0000"/><rect x="679" y="263" width="3" height="9" fill="#ff0000"/><rect x="684" y="251" width="1" height="18" fill="#ff0000"/><rect x="683" y="252" width="3" height="12" fill="#ff0000"/><rect x="688" y="243" width="1" height="18" fill="#00ff7f"/><rect x="687" y="252" width="3" height="1" fill="#00ff7f"/><rect x="692" y="249" width="1" height="38" fill="#00ff7f"/><rect x="691" y="252" width="3" height="26" fill="#00ff7f"/><rect x="696" y="272" width="1" height="6" fill="#ff0000"/><rect x="695" y="274" width="3" height="4" fill="#ff0000"/><rect x="700" y="271" width="1" height="8" fill="#ff0000"/><rect x="699" y="273" width="3" height="4" fill="#ff0000"/><rect x="704" y="263" width="1" height="15" fill="#00ff7f"/><rect x="703" y="273" width="3" height="5" fill="#00ff7f"/><rect x="708" y="264" width="1" height="17" fill="#ff0000"/><rect x="707" y="275" width="3" height="3" fill="#ff0000"/><rect x="712" y="272" width="1" height="44" fill="#00ff7f"/><rect x="711" y="275" width="3" height="30" fill="#00ff7f"/><rect x="716" y="298" width="1" height="24" fill="#00ff7f"/><rect x="715" y="304" width="3" height="14" fill="#00ff7f"/><rect x="720" y="315" width="1" height="21" fill="#00ff7f"/><rect x="719" y="317" width="3" height="16" fill="#00ff7f"/><rect x="724" y="323" width="1" height="14" fill="#ff0000"/><rect x="723" y="332" width="3" height="5" fill="#ff0000"/><rect x="728" y="327" width="1" height="10" fill="#00ff7f"/><rect x="727" y="332" width="3" height="5" fill="#00ff7f"/><rect x="732" y="323" width="1" height="17" fill="#ff0000"/><rect x="731" y="329" width="3" height="8" fill="#ff0000"/><rect x="736" y="319" width="1" height="27" fill="#00ff7f"/><rect x="735" y="329" width="3" height="14" fill="#00ff7f"/><rect x="740" y="322" width="1" height="24" fill="#ff0000"/><rect x="739" y="336" width="3" height="7" fill="#ff0000"/><rect x="744" y="332" width="1" height="5" fill="#ff0000"/><rect x="743" y="332" width="3" height="5" fill="#ff0000"/><rect x="748" y="322" width="1" height="15" fill="#00ff7f"/><rect x="747" y="334" width="3" height="2" fill="#00ff7f"/><rect x="752" y="328" width="1" height="12" fill="#00ff7f"/><rect x="751" y="335" width="3" height="2" fill="#00ff7f"/><rect x="756" y="331" width="1" height="31" fill="#00ff7f"/><rect x="755" y="334" width="3" height="21" fill="#00ff7f"/><rect x="760" y="348" width="1" height="81" fill="#00ff7f"/><rect x="759" y="354" width="3" height="2" fill="#00ff7f"/><rect x="764" y="306" width="1" height="52" fill="#ff0000"/><rect x="763" y="307" width="3" height="48" fill="#ff0000"/><rect x="768" y="298" width="1" height="14" fill="#ff0000"/><rect x="767" y="301" width="3" height="7" fill="#ff0000"/><rect x="772" y="290" width="1" height="13" fill="#ff0000"/><rect x="771" y="292" width="3" height="10" fill="#ff0000"/><rect x="776" y="287" width="1" height="15" fill="#00ff7f"/><rect x="775" y="292" width="3" height="5" fill="#00ff7f"/><rect x="780" y="267" width="1" height="31" fill="#ff0000"/><rect x="779" y="280" width="3" height="17" fill="#ff0000"/><rect x="784" y="265" width="1" height="24" fill="#ff0000"/><rect x="783" y="268" width="3" height="12" fill="#ff0000"/><rect x="788" y="248" width="1" height="29" fill="#ff0000"/><rect x="787" y="264" width="3" height="5" fill="#ff0000"/><rect x="792" y="259" width="1" height="8" fill="#ff0000"/><rect x="791" y="261" width="3" height="4" fill="#ff0000"/><rect x="796" y="256" width="1" height="20" fill="#00ff7f"/><rect x="795" y="260" width="3" height="3" fill="#00ff7f"/><rect x="800" y="253" width="1" height="17" fill="#00ff7f"/><rect x="799" y="262" width="3" height="2" fill="#00ff7f"/><rect x="804" y="259" width="1" height="23" fill="#00ff7f"/><rect x="803" y="263" width="3" height="10" fill="#00ff7f"/><rect x="808" y="270" width="1" height="19" fill="#00ff7f"/><rect x="807" y="273" width="3" height="10" fill="#00ff7f"/><rect x="812" y="255" width="1" height="30" fill="#ff0000"/><rect x="811" y="271" width="3" height="12" fill="#ff0000"/><rect x="816" y="270" width="1" height="9" fill="#00ff7f"/><rect x="815" y="271" width="3" height="4" fill="#00ff7f"/><rect x="820" y="273" width="1" height="19" fill="#00ff7f"/><rect x="819" y="281" width="3" height="5" fill="#00ff7f"/><rect x="824" y="282" width="1" height="16" fill="#00ff7f"/><rect x="823" y="285" width="3" height="7" fill="#00ff7f"/><rect x="828" y="288" width="1" height="15" fill="#00ff7f"/><rect x="827" y="293" width="3" height="2" fill="#00ff7f"/><rect x="832" y="279" width="1" height="37" fill="#00ff7f"/><rect x="831" y="295" width="3" height="13" fill="#00ff7f"/><rect x="836" y="275" width="1" height="45" fill="#ff0000"/><rect x="835" y="280" width="3" height="28" fill="#ff0000"/><rect x="840" y="271" width="1" height="10" fill="#ff0000"/><rect x="839" y="274" width="3" height="7" fill="#ff0000"/><rect x="844" y="263" width="1" height="17" fill="#00ff7f"/><rect x="843" y="273" width="3" height="6" fill="#00ff7f"/><rect x="848" y="275" width="1" height="17" fill="#00ff7f"/><rect x="847" y="280" width="3" height="8" fill="#00ff7f"/><rect x="852" y="263" width="1" height="26" fill="#ff0000"/><rect x="851" y="268" width="3" height="20" fill="#ff0000"/><rect x="856" y="222" width="1" height="48" fill="#ff0000"/><rect x="855" y="224" width="3" height="44" fill="#ff0000"/><rect x="860" y="222" width="1" height="27" fill="#00ff7f"/><rect x="859" y="224" width="3" height="15" fill="#00ff7f"/><rect x="864" y="234" width="1" height="9" fill="#00ff7f"/><rect x="863" y="238" width="3" height="4" fill="#00ff7f"/><rect x="868" y="240" width="1" height="19" fill="#00ff7f"/><rect x="867" y="242" width="3" height="14" fill="#00ff7f"/><rect x="872" y="235" width="1" height="33" fill="#ff0000"/><rect x="871" y="249" width="3" height="8" fill="#ff0000"/><rect x="876" y="244" width="1" height="34" fill="#00ff7f"/><rect x="875" y="249" width="3" height="24" fill="#00ff7f"/></g>
<g id="mas"><path d="M399 261h4v1h-4zM432 261h3v1h-3zM451 261h2v1h-2zM527 309h4v1h-4zM535 309h4v1h-4zM761 309h2v1h-2zM802 309h2v1h-2zM621 247h2v1h-2zM702 247h2v1h-2zM639 240h4v1h-4zM688 240h2v1h-2zM395 260h4v1h-4zM435 260h8v1h-8zM447 260h4v1h-4zM485 280h2v1h-2zM845 280h2v1h-2zM37 116h2v1h-2zM75 116h3v1h-3zM531 310h4v1h-4zM800 310h2v1h-2zM323 201h3v1h-3zM195 175h12v1h-12zM231 175h3v1h-3zM273 175h2v1h-2zM663 233h8v1h-8zM552 300h2v1h-2zM816 300h2v1h-2zM388 257h2v1h-2zM63 120h3v1h-3zM207 176h16v1h-16zM227 176h4v1h-4zM659 234h4v1h-4zM671 234h4v1h-4zM501 292h2v1h-2zM565 292h2v1h-2zM830 292h2v1h-2zM814 301h2v1h-2zM858 273h2v1h-2zM368 243h2v1h-2zM630 243h2v1h-2zM694 243h2v1h-2zM415 265h4v1h-4zM458 265h2v1h-2zM848 278h2v1h-2zM408 264h7v1h-7zM419 264h4v1h-4zM456 264h2v1h-2zM775 316h12v1h-12zM361 238h2v1h-2zM647 238h3v1h-3zM683 238h3v1h-3zM390 258h2v1h-2zM71 117h4v1h-4zM137 117h2v1h-2zM854 275h2v1h-2zM47 119h16v1h-16zM66 119h2v1h-2zM460 266h3v1h-3zM392 259h3v1h-3zM443 259h4v1h-4zM580 284h2v1h-2zM472 271h2v1h-2zM863 271h4v1h-4zM243 171h16v1h-16zM372 245h2v1h-2zM624 245h3v1h-3zM698 245h2v1h-2zM365 241h2v1h-2zM635 241h4v1h-4zM690 241h2v1h-2zM572 288h2v1h-2zM770 314h2v1h-2zM791 314h3v1h-3zM609 256h2v1h-2zM40 118h7v1h-7zM68 118h3v1h-3zM223 177h4v1h-4zM276 177h2v1h-2zM312 198h3v1h-3zM236 173h3v1h-3zM263 173h8v1h-8zM652 236h3v1h-3zM678 236h2v1h-2zM497 289h2v1h-2zM570 289h2v1h-2zM489 283h2v1h-2zM582 283h2v1h-2zM841 283h2v1h-2zM192 174h3v1h-3zM234 174h2v1h-2zM271 174h2v1h-2zM828 293h2v1h-2zM556 298h2v1h-2zM406 263h2v1h-2zM423 263h7v1h-7zM852 276h2v1h-2zM826 294h2v1h-2zM278 178h2v1h-2zM568 290h2v1h-2zM833 290h2v1h-2zM554 299h2v1h-2zM818 299h2v1h-2zM481 277h2v1h-2zM850 277h2v1h-2zM520 306h2v1h-2zM757 306h2v1h-2zM613 253h2v1h-2zM584 282h2v1h-2zM107 98h8v1h-8zM477 274h2v1h-2zM856 274h2v1h-2zM292 189h3v1h-3zM319 200h4v1h-4zM385 255h2v1h-2zM650 237h2v1h-2zM680 237h3v1h-3zM772 315h3v1h-3zM787 315h4v1h-4zM289 187h2v1h-2zM764 311h2v1h-2zM798 311h2v1h-2zM468 269h2v1h-2zM871 269h6v1h-6zM82 113h2v1h-2zM578 285h2v1h-2zM315 199h4v1h-4zM299 191h4v1h-4zM768 313h2v1h-2zM794 313h2v1h-2zM463 267h3v1h-3zM655 235h4v1h-4zM675 235h3v1h-3zM309 196h2v1h-2zM518 305h2v1h-2zM544 305h2v1h-2zM505 295h2v1h-2zM561 295h2v1h-2zM824 295h2v1h-2zM466 268h2v1h-2zM474 272h2v1h-2zM860 272h3v1h-3zM189 172h2v1h-2zM239 172h4v1h-4zM259 172h4v1h-4zM643 239h4v1h-4zM686 239h2v1h-2zM574 287h2v1h-2zM285 184h2v1h-2zM295 190h4v1h-4zM513 302h2v1h-2zM549 302h2v1h-2zM812 302h2v1h-2zM470 270h2v1h-2zM867 270h4v1h-4zM403 262h3v1h-3zM430 262h2v1h-2zM453 262h2v1h-2zM586 281h2v1h-2zM632 242h3v1h-3zM692 242h2v1h-2zM96 102h2v1h-2zM98 101h2v1h-2zM94 103h2v1h-2zM370 244h2v1h-2zM627 244h3v1h-3zM696 244h2v1h-2zM78 115h2v1h-2zM713 252h2v1h-2zM522 307h2v1h-2zM541 307h2v1h-2zM805 307h2v1h-2zM377 248h2v1h-2zM704 248h3v1h-3zM524 308h3v1h-3zM539 308h2v1h-2zM558 297h2v1h-2zM821 297h2v1h-2zM326 202h2v1h-2zM303 192h2v1h-2zM374 246h2v1h-2zM700 246h2v1h-2zM329 204h2v1h-2zM766 312h2v1h-2zM796 312h2v1h-2zM516 304h2v1h-2zM546 304h2v1h-2zM809 304h2v1h-2zM80 114h2v1h-2zM133 114h2v1h-2zM103 99h4v1h-4zM115 99h2v1h-2zM129 111h2v1h-2zM100 100h3v1h-3zM117 100h2v1h-2zM707 249h3v1h-3zM617 250h2v1h-2zM710 250h2v1h-2zM92 104h2v1h-2zM493 286h2v1h-2zM576 286h2v1h-2zM145 124h2v1h-2zM185 169h2v1h-2zM305 193h2v1h-2zM604 261h1v1h-1zM722 260h1v2h-1zM30 108h1v1h-1zM88 108h1v1h-1zM126 108h1v1h-1zM376 247h1v1h-1zM364 240h1v1h-1zM605 260h1v1h-1zM588 280h1v1h-1zM735 280h1v2h-1zM136 116h1v1h-1zM5 74h1v1h-1zM763 310h1v1h-1zM357 233h1v1h-1zM336 210h1v1h-1zM511 300h1v1h-1zM751 300h1v1h-1zM608 257h1v1h-1zM719 257h1v1h-1zM141 120h1v1h-1zM6 75h1v2h-1zM181 165h1v1h-1zM275 176h1v1h-1zM358 234h1v2h-1zM743 292h1v1h-1zM512 301h1v1h-1zM551 301h1v1h-1zM752 301h1v1h-1zM476 273h1v1h-1zM594 273h1v1h-1zM730 272h1v2h-1zM601 265h1v1h-1zM725 264h1v2h-1zM483 278h1v1h-1zM590 277h1v2h-1zM733 277h1v2h-1zM602 263h1v2h-1zM607 258h1v1h-1zM720 258h1v1h-1zM39 117h1v1h-1zM479 275h1v1h-1zM592 275h1v1h-1zM731 274h1v2h-1zM13 83h1v1h-1zM140 119h1v1h-1zM600 266h1v1h-1zM726 266h1v1h-1zM167 149h1v2h-1zM606 259h1v1h-1zM721 259h1v1h-1zM491 284h1v1h-1zM737 283h1v2h-1zM840 284h1v1h-1zM596 271h1v1h-1zM729 270h1v2h-1zM188 171h1v1h-1zM496 288h1v1h-1zM740 288h1v1h-1zM836 288h1v1h-1zM387 256h1v1h-1zM718 256h1v1h-1zM29 106h1v2h-1zM89 107h1v1h-1zM125 107h1v1h-1zM350 225h1v1h-1zM139 118h1v1h-1zM191 173h1v1h-1zM359 236h1v1h-1zM741 289h1v1h-1zM835 289h1v1h-1zM503 293h1v1h-1zM564 293h1v1h-1zM744 293h1v1h-1zM162 142h1v2h-1zM509 298h1v1h-1zM749 298h1v1h-1zM820 298h1v1h-1zM455 263h1v1h-1zM724 263h1v1h-1zM480 276h1v1h-1zM591 276h1v1h-1zM732 276h1v1h-1zM165 146h1v2h-1zM504 294h1v1h-1zM563 294h1v1h-1zM745 294h1v1h-1zM499 290h1v1h-1zM742 290h1v2h-1zM510 299h1v1h-1zM750 299h1v1h-1zM543 306h1v1h-1zM807 306h1v1h-1zM166 148h1v1h-1zM343 217h1v1h-1zM383 253h1v1h-1zM715 253h1v1h-1zM488 282h1v1h-1zM736 282h1v1h-1zM843 282h1v1h-1zM147 125h1v1h-1zM24 98h1v1h-1zM16 87h1v1h-1zM148 126h1v1h-1zM593 274h1v1h-1zM611 255h1v1h-1zM717 255h1v1h-1zM360 237h1v1h-1zM342 216h1v1h-1zM15 86h1v1h-1zM598 268h1v2h-1zM728 269h1v1h-1zM34 113h1v1h-1zM132 113h1v1h-1zM507 296h1v1h-1zM560 296h1v1h-1zM747 296h1v1h-1zM823 296h1v1h-1zM515 303h1v1h-1zM548 303h1v1h-1zM754 303h1v1h-1zM811 303h1v1h-1zM492 285h1v1h-1zM738 285h1v1h-1zM839 285h1v1h-1zM308 195h1v1h-1zM599 267h1v1h-1zM727 267h1v2h-1zM756 305h1v1h-1zM808 305h1v1h-1zM33 112h1v1h-1zM84 112h1v1h-1zM131 112h1v1h-1zM187 170h1v1h-1zM331 205h1v1h-1zM746 295h1v1h-1zM595 272h1v1h-1zM363 239h1v1h-1zM7 77h1v1h-1zM495 287h1v1h-1zM739 286h1v2h-1zM837 287h1v1h-1zM8 78h1v1h-1zM154 132h1v1h-1zM753 302h1v1h-1zM597 270h1v1h-1zM603 262h1v1h-1zM723 262h1v1h-1zM143 122h1v1h-1zM155 133h1v1h-1zM487 281h1v1h-1zM844 281h1v1h-1zM367 242h1v1h-1zM14 84h1v2h-1zM26 101h1v2h-1zM120 102h1v1h-1zM168 151h1v1h-1zM381 251h1v1h-1zM616 251h1v1h-1zM712 251h1v1h-1zM119 101h1v1h-1zM27 103h1v2h-1zM121 103h1v1h-1zM169 152h1v1h-1zM18 89h1v2h-1zM90 106h1v1h-1zM124 106h1v1h-1zM36 115h1v1h-1zM135 115h1v1h-1zM382 252h1v1h-1zM615 252h1v1h-1zM759 307h1v1h-1zM620 248h1v1h-1zM760 308h1v1h-1zM804 308h1v1h-1zM31 109h1v2h-1zM87 109h1v1h-1zM127 109h1v1h-1zM176 160h1v1h-1zM352 227h1v1h-1zM508 297h1v1h-1zM748 297h1v1h-1zM86 110h1v1h-1zM128 110h1v1h-1zM142 121h1v1h-1zM623 246h1v1h-1zM484 279h1v1h-1zM589 279h1v1h-1zM734 279h1v1h-1zM847 279h1v1h-1zM183 167h1v1h-1zM281 180h1v1h-1zM755 304h1v1h-1zM337 211h1v1h-1zM35 114h1v1h-1zM25 99h1v2h-1zM500 291h1v1h-1zM567 291h1v1h-1zM832 291h1v1h-1zM32 111h1v1h-1zM85 111h1v1h-1zM157 135h1v2h-1zM344 218h1v1h-1zM379 249h1v1h-1zM619 249h1v1h-1zM351 226h1v1h-1zM149 127h1v1h-1zM10 80h1v1h-1zM156 134h1v1h-1zM280 179h1v1h-1zM291 188h1v1h-1zM384 254h1v1h-1zM612 254h1v1h-1zM716 254h1v1h-1zM170 153h1v2h-1zM160 140h1v1h-1zM17 88h1v1h-1zM171 155h1v1h-1zM380 250h1v1h-1zM28 105h1v1h-1zM91 105h1v1h-1zM123 105h1v1h-1zM21 93h1v2h-1zM177 161h1v1h-1zM178 162h1v1h-1zM355 231h1v1h-1zM9 79h1v1h-1zM122 104h1v1h-1zM144 123h1v1h-1zM838 286h1v1h-1zM332 206h1v1h-1zM354 229h1v2h-1zM287 185h1v1h-1zM339 213h1v1h-1zM159 138h1v2h-1zM346 220h1v2h-1zM184 168h1v1h-1zM19 91h1v1h-1zM347 222h1v1h-1zM20 92h1v1h-1zM23 96h1v2h-1zM353 228h1v1h-1zM338 212h1v1h-1zM151 129h1v1h-1zM328 203h1v1h-1zM158 137h1v1h-1zM282 181h1v1h-1zM345 219h1v1h-1zM283 182h1v1h-1zM172 156h1v1h-1zM173 157h1v1h-1zM11 81h1v1h-1zM12 82h1v1h-1zM22 95h1v1h-1zM150 128h1v1h-1zM356 232h1v1h-1zM335 209h1v1h-1zM4 73h1v1h-1zM179 163h1v1h-1zM180 164h1v1h-1zM161 141h1v1h-1zM348 223h1v1h-1zM349 224h1v1h-1zM333 207h1v1h-1zM311 197h1v1h-1zM334 208h1v1h-1zM288 186h1v1h-1zM340 214h1v1h-1zM341 215h1v1h-1zM307 194h1v1h-1zM153 131h1v1h-1zM164 145h1v1h-1zM284 183h1v1h-1zM152 130h1v1h-1zM175 159h1v1h-1zM163 144h1v1h-1zM182 166h1v1h-1zM174 158h1v1h-1z" fill="#ffff00"/><path d="M542 293h2v1h-2zM579 293h2v1h-2zM788 293h2v1h-2zM861 293h2v1h-2zM528 286h2v1h-2zM774 286h2v1h-2zM872 286h2v1h-2zM128 115h3v1h-3zM811 298h4v1h-4zM853 298h2v1h-2zM475 276h4v1h-4zM608 276h2v1h-2zM408 247h19v1h-19zM660 247h2v1h-2zM711 247h3v1h-3zM839 302h4v1h-4zM316 188h2v1h-2zM479 277h8v1h-8zM606 277h2v1h-2zM470 274h2v1h-2zM612 274h2v1h-2zM131 116h3v1h-3zM396 241h3v1h-3zM679 241h16v1h-16zM318 189h2v1h-2zM733 260h2v1h-2zM80 105h2v1h-2zM461 269h2v1h-2zM624 269h3v1h-3zM744 269h2v1h-2zM72 101h2v1h-2zM523 284h3v1h-3zM770 284h2v1h-2zM295 184h15v1h-15zM84 107h3v1h-3zM631 267h4v1h-4zM741 267h2v1h-2zM831 301h8v1h-8zM843 301h7v1h-7zM24 74h2v1h-2zM320 190h3v1h-3zM16 70h2v1h-2zM312 186h2v1h-2zM445 256h2v1h-2zM547 295h8v1h-8zM563 295h12v1h-12zM792 295h3v1h-3zM858 295h2v1h-2zM87 108h4v1h-4zM99 108h12v1h-12zM248 175h15v1h-15zM271 175h3v1h-3zM373 227h2v1h-2zM526 285h2v1h-2zM593 285h2v1h-2zM772 285h2v1h-2zM874 285h2v1h-2zM555 296h8v1h-8zM795 296h12v1h-12zM856 296h2v1h-2zM76 103h2v1h-2zM69 99h2v1h-2zM627 268h4v1h-4zM487 278h20v1h-20zM604 278h2v1h-2zM757 278h2v1h-2zM637 265h2v1h-2zM143 120h4v1h-4zM534 289h2v1h-2zM586 289h2v1h-2zM780 289h2v1h-2zM20 72h2v1h-2zM464 271h2v1h-2zM619 271h3v1h-3zM823 300h8v1h-8zM850 300h2v1h-2zM229 165h2v1h-2zM544 294h3v1h-3zM575 294h4v1h-4zM790 294h2v1h-2zM404 245h2v1h-2zM664 245h3v1h-3zM706 245h2v1h-2zM332 194h2v1h-2zM170 132h2v1h-2zM399 242h2v1h-2zM675 242h4v1h-4zM695 242h4v1h-4zM649 255h2v1h-2zM507 279h4v1h-4zM602 279h2v1h-2zM353 209h2v1h-2zM401 243h2v1h-2zM671 243h4v1h-4zM699 243h4v1h-4zM323 191h4v1h-4zM530 287h2v1h-2zM590 287h2v1h-2zM776 287h2v1h-2zM515 281h3v1h-3zM762 281h2v1h-2zM388 238h3v1h-3zM406 246h2v1h-2zM662 246h2v1h-2zM708 246h3v1h-3zM427 248h4v1h-4zM714 248h2v1h-2zM139 119h4v1h-4zM369 224h2v1h-2zM91 109h8v1h-8zM111 109h4v1h-4zM279 178h3v1h-3zM327 192h3v1h-3zM807 297h4v1h-4zM815 299h8v1h-8zM166 130h2v1h-2zM622 270h2v1h-2zM746 270h2v1h-2zM391 239h3v1h-3zM188 140h2v1h-2zM282 179h2v1h-2zM192 142h3v1h-3zM645 258h2v1h-2zM150 122h2v1h-2zM274 176h2v1h-2zM538 291h2v1h-2zM784 291h2v1h-2zM864 291h2v1h-2zM635 266h2v1h-2zM653 252h2v1h-2zM722 252h2v1h-2zM349 206h2v1h-2zM276 177h3v1h-3zM184 138h2v1h-2zM175 134h3v1h-3zM13 68h2v1h-2zM178 135h2v1h-2zM120 112h3v1h-3zM394 240h2v1h-2zM292 183h3v1h-3zM65 96h2v1h-2zM435 250h3v1h-3zM718 250h2v1h-2zM210 150h2v1h-2zM203 146h2v1h-2zM147 121h3v1h-3zM511 280h4v1h-4zM600 280h2v1h-2zM760 280h2v1h-2zM284 180h3v1h-3zM180 136h2v1h-2zM466 272h2v1h-2zM616 272h3v1h-3zM749 272h2v1h-2zM441 253h2v1h-2zM724 253h2v1h-2zM195 143h3v1h-3zM225 162h2v1h-2zM172 133h3v1h-3zM287 181h3v1h-3zM198 144h2v1h-2zM518 282h2v1h-2zM597 282h2v1h-2zM764 282h3v1h-3zM158 126h2v1h-2zM290 182h2v1h-2zM246 174h2v1h-2zM263 174h8v1h-8zM200 145h3v1h-3zM438 251h2v1h-2zM720 251h2v1h-2zM667 244h4v1h-4zM703 244h3v1h-3zM453 262h2v1h-2zM472 275h3v1h-3zM610 275h2v1h-2zM753 275h2v1h-2zM154 124h2v1h-2zM520 283h3v1h-3zM767 283h3v1h-3zM126 114h2v1h-2zM56 90h2v1h-2zM242 172h2v1h-2zM48 87h3v1h-3zM345 203h2v1h-2zM468 273h2v1h-2zM614 273h2v1h-2zM244 173h2v1h-2zM236 169h2v1h-2zM51 88h3v1h-3zM123 113h3v1h-3zM44 85h2v1h-2zM36 81h2v1h-2zM115 110h3v1h-3zM240 171h2v1h-2zM232 167h2v1h-2zM38 82h2v1h-2zM540 292h2v1h-2zM581 292h2v1h-2zM786 292h2v1h-2zM377 230h2v1h-2zM532 288h2v1h-2zM588 288h2v1h-2zM778 288h2v1h-2zM869 288h2v1h-2zM726 254h2v1h-2zM82 106h2v1h-2zM29 77h2v1h-2zM40 83h2v1h-2zM32 79h2v1h-2zM134 117h2v1h-2zM34 80h2v1h-2zM536 290h2v1h-2zM584 290h2v1h-2zM782 290h2v1h-2zM866 290h2v1h-2zM449 259h2v1h-2zM58 91h2v1h-2zM78 104h2v1h-2zM26 75h2v1h-2zM18 71h2v1h-2zM314 187h2v1h-2zM217 155h2v1h-2zM74 102h2v1h-2zM22 73h2v1h-2zM310 185h2v1h-2zM341 200h2v1h-2zM337 197h2v1h-2zM431 249h4v1h-4zM657 249h2v1h-2zM716 249h2v1h-2zM136 118h3v1h-3zM168 131h2v1h-2zM160 127h2v1h-2zM385 236h2v1h-2zM164 129h2v1h-2zM156 125h2v1h-2zM190 141h2v1h-2zM182 137h2v1h-2zM213 152h2v1h-2zM152 123h2v1h-2zM208 149h2v1h-2zM330 193h2v1h-2zM186 139h2v1h-2zM118 111h2v1h-2zM162 128h2v1h-2zM381 233h2v1h-2zM9 65h2v1h-2zM61 93h2v1h-2zM5 62h2v1h-2zM42 84h2v1h-2zM46 86h2v1h-2zM54 89h2v1h-2zM238 170h2v1h-2zM334 195h2v1h-2zM205 147h2v1h-2zM234 168h2v1h-2zM592 286h1v1h-1zM755 276h1v1h-1zM28 76h1v1h-1zM231 166h1v1h-1zM756 277h1v1h-1zM752 274h1v1h-1zM451 260h1v1h-1zM643 260h1v1h-1zM595 284h1v1h-1zM876 284h1v1h-1zM459 267h1v1h-1zM648 256h1v1h-1zM729 256h1v1h-1zM355 210h1v1h-1zM336 196h1v1h-1zM460 268h1v1h-1zM743 268h1v1h-1zM215 153h1v1h-1zM457 265h1v1h-1zM739 265h1v1h-1zM868 289h1v1h-1zM216 154h1v1h-1zM227 163h1v1h-1zM748 271h1v1h-1zM362 217h1v1h-1zM860 294h1v1h-1zM444 255h1v1h-1zM728 255h1v1h-1zM759 279h1v1h-1zM871 287h1v1h-1zM599 281h1v1h-1zM659 248h1v1h-1zM855 297h1v1h-1zM852 299h1v1h-1zM463 270h1v1h-1zM361 216h1v1h-1zM448 258h1v1h-1zM731 258h1v1h-1zM583 291h1v1h-1zM387 237h1v1h-1zM458 266h1v1h-1zM740 266h1v1h-1zM440 252h1v1h-1zM12 67h1v1h-1zM64 95h1v1h-1zM656 250h1v1h-1zM222 159h1v1h-1zM652 253h1v1h-1zM383 234h1v1h-1zM207 148h1v1h-1zM655 251h1v1h-1zM368 223h1v1h-1zM403 244h1v1h-1zM641 262h1v1h-1zM736 262h1v1h-1zM455 263h1v1h-1zM640 263h1v1h-1zM737 263h1v1h-1zM596 283h1v1h-1zM7 63h1v1h-1zM357 212h1v1h-1zM751 273h1v1h-1zM8 64h1v1h-1zM60 92h1v1h-1zM364 219h1v1h-1zM221 158h1v1h-1zM863 292h1v1h-1zM356 211h1v1h-1zM443 254h1v1h-1zM651 254h1v1h-1zM379 231h1v1h-1zM4 61h1v1h-1zM644 259h1v1h-1zM732 259h1v1h-1zM352 208h1v1h-1zM452 261h1v1h-1zM642 261h1v1h-1zM735 261h1v1h-1zM228 164h1v1h-1zM363 218h1v1h-1zM375 228h1v1h-1zM224 161h1v1h-1zM348 205h1v1h-1zM351 207h1v1h-1zM447 257h1v1h-1zM647 257h1v1h-1zM730 257h1v1h-1zM456 264h1v1h-1zM639 264h1v1h-1zM738 264h1v1h-1zM212 151h1v1h-1zM223 160h1v1h-1zM384 235h1v1h-1zM344 202h1v1h-1zM347 204h1v1h-1zM358 213h1v1h-1zM365 220h1v1h-1zM366 221h1v1h-1zM31 78h1v1h-1zM380 232h1v1h-1zM343 201h1v1h-1zM339 198h1v1h-1zM376 229h1v1h-1zM219 156h1v1h-1zM68 98h1v1h-1zM71 100h1v1h-1zM15 69h1v1h-1zM371 225h1v1h-1zM360 215h1v1h-1zM372 226h1v1h-1zM11 66h1v1h-1zM67 97h1v1h-1zM359 214h1v1h-1zM367 222h1v1h-1zM63 94h1v1h-1zM340 199h1v1h-1zM220 157h1v1h-1z" fill="#0000cd"/><path d="M767 331h4v1h-4zM44 123h2v1h-2zM496 308h7v1h-7zM63 115h3v1h-3zM313 209h2v1h-2zM646 234h2v1h-2zM666 234h2v1h-2zM781 323h2v1h-2zM577 272h2v1h-2zM866 272h2v1h-2zM226 169h2v1h-2zM230 169h2v1h-2zM610 239h2v1h-2zM619 239h4v1h-4zM679 239h11v1h-11zM96 92h15v1h-15zM401 273h2v1h-2zM864 273h2v1h-2zM68 113h3v1h-3zM222 171h2v1h-2zM234 171h2v1h-2zM511 305h4v1h-4zM519 305h8v1h-8zM545 305h2v1h-2zM94 93h2v1h-2zM111 93h2v1h-2zM612 238h7v1h-7zM675 238h4v1h-4zM606 241h2v1h-2zM627 241h10v1h-10zM384 276h2v1h-2zM397 276h2v1h-2zM820 276h15v1h-15zM858 276h2v1h-2zM168 179h2v1h-2zM178 179h2v1h-2zM26 125h2v1h-2zM40 125h2v1h-2zM493 306h2v1h-2zM507 306h4v1h-4zM527 306h4v1h-4zM543 306h2v1h-2zM503 307h4v1h-4zM531 307h12v1h-12zM651 232h4v1h-4zM659 232h4v1h-4zM170 180h2v1h-2zM175 180h3v1h-3zM203 174h8v1h-8zM243 174h8v1h-8zM259 174h14v1h-14zM431 247h4v1h-4zM442 247h2v1h-2zM847 279h7v1h-7zM16 119h2v1h-2zM52 119h3v1h-3zM601 244h2v1h-2zM88 95h3v1h-3zM488 303h2v1h-2zM548 303h2v1h-2zM48 121h2v1h-2zM13 117h2v1h-2zM58 117h2v1h-2zM18 120h2v1h-2zM50 120h2v1h-2zM875 269h2v1h-2zM166 178h2v1h-2zM180 178h2v1h-2zM277 178h2v1h-2zM184 176h15v1h-15zM871 270h4v1h-4zM860 275h2v1h-2zM670 236h2v1h-2zM862 274h2v1h-2zM215 172h7v1h-7zM236 172h3v1h-3zM764 332h3v1h-3zM199 175h4v1h-4zM251 175h8v1h-8zM273 175h2v1h-2zM868 271h3v1h-3zM608 240h2v1h-2zM623 240h4v1h-4zM637 240h2v1h-2zM690 240h2v1h-2zM428 248h3v1h-3zM386 277h2v1h-2zM395 277h2v1h-2zM818 277h2v1h-2zM835 277h8v1h-8zM856 277h2v1h-2zM485 301h2v1h-2zM552 301h2v1h-2zM228 168h2v1h-2zM761 330h2v1h-2zM771 330h3v1h-3zM557 298h2v1h-2zM435 246h7v1h-7zM550 302h2v1h-2zM211 173h4v1h-4zM239 173h4v1h-4zM55 118h3v1h-3zM172 181h3v1h-3zM164 177h2v1h-2zM182 177h2v1h-2zM60 116h3v1h-3zM388 278h7v1h-7zM816 278h2v1h-2zM843 278h4v1h-4zM854 278h2v1h-2zM554 300h2v1h-2zM644 235h2v1h-2zM668 235h2v1h-2zM425 250h2v1h-2zM31 127h4v1h-4zM37 127h2v1h-2zM304 203h3v1h-3zM774 329h2v1h-2zM71 112h3v1h-3zM224 170h2v1h-2zM232 170h2v1h-2zM641 237h2v1h-2zM672 237h3v1h-3zM490 304h2v1h-2zM515 304h4v1h-4zM307 204h2v1h-2zM648 233h3v1h-3zM663 233h3v1h-3zM327 217h4v1h-4zM300 201h2v1h-2zM74 111h2v1h-2zM24 124h2v1h-2zM42 124h2v1h-2zM344 225h2v1h-2zM655 231h4v1h-4zM338 222h2v1h-2zM91 94h3v1h-3zM113 94h2v1h-2zM296 199h2v1h-2zM340 223h2v1h-2zM333 219h2v1h-2zM342 224h2v1h-2zM324 216h3v1h-3zM66 114h2v1h-2zM336 221h2v1h-2zM318 212h2v1h-2zM21 122h2v1h-2zM46 122h2v1h-2zM321 214h2v1h-2zM604 242h2v1h-2zM693 242h2v1h-2zM28 126h3v1h-3zM35 128h2v1h-2zM298 200h2v1h-2zM302 202h2v1h-2zM346 226h2v1h-2zM331 218h2v1h-2zM316 211h2v1h-2zM763 331h1v1h-1zM23 123h1v1h-1zM135 122h1v2h-1zM7 108h1v2h-1zM78 107h1v2h-1zM126 108h1v1h-1zM743 307h1v2h-1zM792 308h1v1h-1zM468 283h1v1h-1zM569 282h1v2h-1zM725 283h1v1h-1zM812 283h1v1h-1zM11 114h1v2h-1zM130 114h1v2h-1zM367 254h1v1h-1zM421 254h1v1h-1zM449 254h1v2h-1zM593 254h1v2h-1zM705 254h1v1h-1zM354 234h1v1h-1zM755 322h1v2h-1zM380 272h1v1h-1zM403 272h1v1h-1zM459 271h1v2h-1zM717 272h1v2h-1zM159 169h1v2h-1zM357 238h1v2h-1zM639 239h1v1h-1zM478 294h1v1h-1zM561 294h1v2h-1zM734 294h1v2h-1zM803 294h1v1h-1zM366 252h1v2h-1zM422 253h1v1h-1zM448 253h1v1h-1zM594 252h1v2h-1zM704 253h1v1h-1zM376 266h1v1h-1zM409 266h1v1h-1zM456 266h1v1h-1zM584 266h1v1h-1zM713 265h1v2h-1zM151 154h1v2h-1zM381 273h1v1h-1zM460 273h1v1h-1zM576 273h1v1h-1zM477 293h1v1h-1zM562 293h1v1h-1zM733 293h1v1h-1zM804 293h1v1h-1zM10 113h1v1h-1zM129 112h1v2h-1zM160 171h1v1h-1zM492 305h1v1h-1zM741 304h1v2h-1zM794 305h1v2h-1zM473 289h1v1h-1zM565 288h1v2h-1zM730 289h1v2h-1zM807 289h1v1h-1zM640 238h1v1h-1zM359 241h1v2h-1zM692 241h1v1h-1zM462 275h1v2h-1zM574 275h1v2h-1zM719 275h1v2h-1zM279 179h1v1h-1zM467 282h1v1h-1zM724 282h1v1h-1zM813 282h1v1h-1zM470 285h1v2h-1zM567 285h1v2h-1zM727 286h1v1h-1zM810 285h1v2h-1zM137 125h1v2h-1zM371 259h1v2h-1zM416 259h1v1h-1zM452 259h1v1h-1zM590 259h1v2h-1zM709 258h1v2h-1zM742 306h1v1h-1zM495 307h1v1h-1zM793 307h1v1h-1zM353 232h1v2h-1zM280 180h1v1h-1zM162 174h1v1h-1zM362 246h1v2h-1zM598 247h1v1h-1zM699 247h1v1h-1zM369 256h1v2h-1zM418 257h1v1h-1zM451 257h1v2h-1zM592 256h1v2h-1zM708 257h1v1h-1zM465 279h1v1h-1zM571 279h1v2h-1zM722 279h1v2h-1zM815 279h1v1h-1zM133 119h1v2h-1zM361 244h1v2h-1zM696 244h1v1h-1zM115 95h1v1h-1zM747 313h1v1h-1zM789 312h1v2h-1zM740 303h1v1h-1zM796 303h1v1h-1zM140 131h1v2h-1zM20 121h1v1h-1zM134 121h1v1h-1zM6 106h1v2h-1zM125 106h1v2h-1zM131 116h1v2h-1zM378 269h1v1h-1zM406 269h1v1h-1zM458 269h1v2h-1zM581 269h1v1h-1zM715 269h1v2h-1zM141 133h1v2h-1zM154 160h1v2h-1zM163 175h1v2h-1zM275 176h1v1h-1zM379 270h1v2h-1zM405 270h1v1h-1zM580 270h1v1h-1zM753 319h1v2h-1zM785 319h1v2h-1zM375 265h1v1h-1zM410 265h1v1h-1zM455 264h1v2h-1zM585 265h1v1h-1zM383 275h1v1h-1zM399 275h1v1h-1zM155 162h1v2h-1zM355 235h1v2h-1zM643 236h1v1h-1zM382 274h1v1h-1zM400 274h1v1h-1zM461 274h1v1h-1zM575 274h1v1h-1zM718 274h1v1h-1zM161 172h1v2h-1zM158 167h1v2h-1zM363 248h1v2h-1zM427 249h1v1h-1zM445 249h1v1h-1zM596 249h1v1h-1zM701 249h1v1h-1zM404 271h1v1h-1zM579 271h1v1h-1zM716 271h1v1h-1zM358 240h1v1h-1zM419 256h1v1h-1zM450 256h1v1h-1zM707 256h1v1h-1zM750 316h1v1h-1zM787 315h1v2h-1zM444 248h1v1h-1zM597 248h1v1h-1zM700 248h1v1h-1zM463 277h1v1h-1zM573 277h1v1h-1zM720 277h1v1h-1zM350 229h1v1h-1zM726 284h1v2h-1zM739 301h1v2h-1zM798 300h1v2h-1zM759 328h1v1h-1zM776 328h1v1h-1zM143 137h1v2h-1zM480 296h1v1h-1zM560 296h1v1h-1zM735 296h1v1h-1zM802 295h1v2h-1zM482 298h1v1h-1zM737 298h1v2h-1zM800 298h1v1h-1zM86 97h1v2h-1zM118 98h1v1h-1zM290 192h1v1h-1zM139 129h1v2h-1zM599 246h1v1h-1zM698 246h1v1h-1zM487 302h1v1h-1zM797 302h1v1h-1zM8 110h1v1h-1zM76 110h1v1h-1zM127 109h1v2h-1zM15 118h1v1h-1zM132 118h1v1h-1zM153 158h1v2h-1zM281 181h1v1h-1zM79 106h1v1h-1zM370 258h1v1h-1zM417 258h1v1h-1zM591 258h1v1h-1zM276 177h1v1h-1zM374 263h1v2h-1zM412 263h1v1h-1zM454 262h1v2h-1zM587 263h1v1h-1zM712 263h1v2h-1zM12 116h1v1h-1zM349 228h1v1h-1zM464 278h1v1h-1zM572 278h1v1h-1zM721 278h1v1h-1zM368 255h1v1h-1zM420 255h1v1h-1zM706 255h1v1h-1zM377 267h1v2h-1zM407 268h1v1h-1zM457 267h1v2h-1zM582 268h1v1h-1zM714 267h1v2h-1zM411 264h1v1h-1zM586 264h1v1h-1zM484 300h1v1h-1zM738 300h1v1h-1zM282 182h1v2h-1zM364 250h1v1h-1zM446 250h1v2h-1zM595 250h1v2h-1zM702 250h1v2h-1zM138 127h1v2h-1zM760 329h1v1h-1zM283 184h1v1h-1zM471 287h1v1h-1zM566 287h1v1h-1zM728 287h1v1h-1zM809 287h1v1h-1zM77 109h1v1h-1zM9 111h1v2h-1zM356 237h1v1h-1zM547 304h1v1h-1zM795 304h1v1h-1zM415 260h1v1h-1zM453 260h1v2h-1zM710 260h1v1h-1zM309 205h1v1h-1zM373 262h1v1h-1zM413 262h1v1h-1zM588 262h1v1h-1zM711 261h1v2h-1zM128 111h1v1h-1zM136 124h1v1h-1zM157 165h1v2h-1zM352 231h1v1h-1zM323 215h1v1h-1zM150 152h1v2h-1zM469 284h1v1h-1zM568 284h1v1h-1zM811 284h1v1h-1zM600 245h1v1h-1zM697 245h1v1h-1zM87 96h1v1h-1zM116 96h1v1h-1zM117 97h1v1h-1zM466 280h1v2h-1zM570 281h1v1h-1zM723 281h1v1h-1zM814 280h1v2h-1zM142 135h1v2h-1zM365 251h1v1h-1zM424 251h1v1h-1zM4 102h1v2h-1zM82 102h1v2h-1zM122 102h1v2h-1zM481 297h1v1h-1zM559 297h1v1h-1zM736 297h1v1h-1zM801 297h1v1h-1zM149 150h1v2h-1zM408 267h1v1h-1zM583 267h1v1h-1zM745 310h1v1h-1zM791 309h1v2h-1zM315 210h1v1h-1zM39 126h1v1h-1zM472 288h1v1h-1zM729 288h1v1h-1zM808 288h1v1h-1zM758 326h1v2h-1zM778 326h1v1h-1zM479 295h1v1h-1zM152 156h1v2h-1zM474 290h1v1h-1zM564 290h1v1h-1zM806 290h1v2h-1zM5 104h1v2h-1zM80 105h1v1h-1zM124 105h1v1h-1zM285 186h1v1h-1zM291 193h1v1h-1zM310 206h1v1h-1zM744 309h1v1h-1zM292 194h1v1h-1zM148 147h1v3h-1zM751 317h1v1h-1zM786 317h1v2h-1zM81 104h1v1h-1zM123 104h1v1h-1zM752 318h1v1h-1zM351 230h1v1h-1zM746 311h1v2h-1zM284 185h1v1h-1zM85 99h1v1h-1zM119 99h1v1h-1zM476 292h1v1h-1zM563 291h1v2h-1zM732 292h1v1h-1zM805 292h1v1h-1zM372 261h1v1h-1zM414 261h1v1h-1zM589 261h1v1h-1zM294 196h1v2h-1zM423 252h1v1h-1zM447 252h1v1h-1zM703 252h1v1h-1zM84 100h1v1h-1zM120 100h1v1h-1zM748 314h1v1h-1zM788 314h1v1h-1zM754 321h1v1h-1zM784 321h1v1h-1zM147 145h1v2h-1zM777 327h1v1h-1zM756 324h1v1h-1zM780 324h1v1h-1zM286 187h1v2h-1zM335 220h1v1h-1zM287 189h1v1h-1zM320 213h1v1h-1zM293 195h1v1h-1zM360 243h1v1h-1zM603 243h1v1h-1zM695 243h1v1h-1zM757 325h1v1h-1zM779 325h1v1h-1zM475 291h1v1h-1zM731 291h1v1h-1zM312 208h1v1h-1zM790 311h1v1h-1zM483 299h1v1h-1zM556 299h1v1h-1zM799 299h1v1h-1zM146 143h1v2h-1zM311 207h1v1h-1zM83 101h1v1h-1zM121 101h1v1h-1zM783 322h1v1h-1zM289 191h1v1h-1zM749 315h1v1h-1zM295 198h1v1h-1zM348 227h1v1h-1zM145 141h1v2h-1zM288 190h1v1h-1zM156 164h1v1h-1zM144 139h1v2h-1z" fill="#ff0000"/></g>
<rect x="802" y="219" width="152" height="2" fill="#ff3030"/>
<rect x="801" y="261" width="148" height="2" fill="#9acd32"/>
<rect x="803" y="292" width="165" height="2" fill="#1e90ff"/>
<g id="rsi"><path d="M116 489h2v1h-2zM282 489h2v1h-2zM336 489h2v1h-2zM344 489h2v1h-2zM511 489h7v1h-7zM547 470h4v1h-4zM555 470h3v1h-3zM643 470h6v1h-6zM784 470h7v1h-7zM799 470h2v1h-2zM862 470h2v1h-2zM122 492h2v1h-2zM131 492h2v1h-2zM148 492h2v1h-2zM359 492h4v1h-4zM367 492h2v1h-2zM714 492h2v1h-2zM743 492h10v1h-10zM93 476h2v1h-2zM412 476h2v1h-2zM580 476h3v1h-3zM616 476h2v1h-2zM771 476h4v1h-4zM809 476h2v1h-2zM818 476h2v1h-2zM836 476h3v1h-3zM843 476h2v1h-2zM114 488h2v1h-2zM142 488h2v1h-2zM279 488h3v1h-3zM338 488h2v1h-2zM342 488h2v1h-2zM346 488h2v1h-2zM464 488h3v1h-3zM508 488h3v1h-3zM518 488h2v1h-2zM12 485h3v1h-3zM19 485h2v1h-2zM28 485h9v1h-9zM164 485h9v1h-9zM373 485h2v1h-2zM383 485h2v1h-2zM475 485h4v1h-4zM527 485h2v1h-2zM695 485h8v1h-8zM707 485h2v1h-2zM396 475h11v1h-11zM410 475h2v1h-2zM583 475h4v1h-4zM614 475h2v1h-2zM805 475h2v1h-2zM815 475h3v1h-3zM839 475h4v1h-4zM868 475h2v1h-2zM544 471h3v1h-3zM551 471h4v1h-4zM573 471h2v1h-2zM781 472h2v1h-2zM192 482h2v1h-2zM204 482h5v1h-5zM232 482h2v1h-2zM298 482h2v1h-2zM388 482h2v1h-2zM437 482h2v1h-2zM487 482h7v1h-7zM500 482h2v1h-2zM537 482h2v1h-2zM667 482h4v1h-4zM680 482h2v1h-2zM828 482h2v1h-2zM118 490h2v1h-2zM145 490h2v1h-2zM284 490h3v1h-3zM289 490h2v1h-2zM120 491h2v1h-2zM150 491h2v1h-2zM287 491h2v1h-2zM356 491h3v1h-3zM363 491h4v1h-4zM712 491h2v1h-2zM15 484h4v1h-4zM189 484h2v1h-2zM379 484h4v1h-4zM385 484h2v1h-2zM496 484h2v1h-2zM673 484h2v1h-2zM48 480h2v1h-2zM104 480h5v1h-5zM196 480h6v1h-6zM236 480h6v1h-6zM256 480h3v1h-3zM261 480h2v1h-2zM301 480h2v1h-2zM318 480h2v1h-2zM323 480h3v1h-3zM430 480h2v1h-2zM684 480h5v1h-5zM824 480h2v1h-2zM56 481h5v1h-5zM194 481h2v1h-2zM202 481h2v1h-2zM217 481h2v1h-2zM234 481h2v1h-2zM259 481h2v1h-2zM316 481h2v1h-2zM326 481h2v1h-2zM390 481h2v1h-2zM425 481h2v1h-2zM432 481h5v1h-5zM484 481h3v1h-3zM682 481h2v1h-2zM826 481h2v1h-2zM209 483h2v1h-2zM296 483h2v1h-2zM329 483h2v1h-2zM376 483h3v1h-3zM494 483h2v1h-2zM498 483h2v1h-2zM502 483h2v1h-2zM539 483h2v1h-2zM664 483h3v1h-3zM671 483h2v1h-2zM830 483h3v1h-3zM136 486h3v1h-3zM471 486h4v1h-4zM479 486h2v1h-2zM523 486h4v1h-4zM529 486h2v1h-2zM692 486h3v1h-3zM703 486h4v1h-4zM40 479h3v1h-3zM46 479h2v1h-2zM50 479h2v1h-2zM53 479h2v1h-2zM71 479h6v1h-6zM176 479h2v1h-2zM242 479h2v1h-2zM246 479h2v1h-2zM306 479h2v1h-2zM320 479h3v1h-3zM428 479h2v1h-2zM632 479h3v1h-3zM764 479h2v1h-2zM81 473h2v1h-2zM558 469h2v1h-2zM640 469h3v1h-3zM791 469h8v1h-8zM860 469h2v1h-2zM4 494h3v1h-3zM450 494h2v1h-2zM457 494h2v1h-2zM717 494h2v1h-2zM734 494h2v1h-2zM738 494h2v1h-2zM43 478h3v1h-3zM68 478h3v1h-3zM96 478h3v1h-3zM101 478h2v1h-2zM178 478h2v1h-2zM182 478h2v1h-2zM225 478h2v1h-2zM244 478h2v1h-2zM264 478h3v1h-3zM304 478h2v1h-2zM416 478h3v1h-3zM620 478h7v1h-7zM630 478h2v1h-2zM635 478h2v1h-2zM766 478h2v1h-2zM821 478h2v1h-2zM112 487h2v1h-2zM139 487h3v1h-3zM276 487h3v1h-3zM340 487h2v1h-2zM348 487h5v1h-5zM467 487h4v1h-4zM520 487h3v1h-3zM452 495h5v1h-5zM723 495h4v1h-4zM729 495h2v1h-2zM736 495h2v1h-2zM758 495h2v1h-2zM99 477h2v1h-2zM180 477h2v1h-2zM267 477h2v1h-2zM414 477h2v1h-2zM419 477h2v1h-2zM618 477h2v1h-2zM627 477h3v1h-3zM768 477h3v1h-3zM775 477h2v1h-2zM845 477h2v1h-2zM7 493h2v1h-2zM124 493h7v1h-7zM448 493h2v1h-2zM732 493h2v1h-2zM740 493h3v1h-3zM652 466h5v1h-5zM407 474h3v1h-3zM577 474h2v1h-2zM587 474h2v1h-2zM608 474h6v1h-6zM812 474h3v1h-3zM870 474h2v1h-2zM596 465h3v1h-3zM720 496h3v1h-3zM727 496h2v1h-2zM756 496h2v1h-2zM564 463h5v1h-5zM857 467h2v1h-2zM599 464h2v1h-2zM10 488h1v2h-1zM24 489h1v1h-1zM134 489h1v1h-1zM144 489h1v1h-1zM153 489h1v1h-1zM160 489h1v1h-1zM291 489h1v1h-1zM354 489h1v1h-1zM370 489h1v1h-1zM444 489h1v1h-1zM463 489h1v1h-1zM711 489h1v2h-1zM761 489h1v4h-1zM572 470h1v1h-1zM592 470h1v1h-1zM605 470h1v1h-1zM640 470h1v1h-1zM657 468h1v3h-1zM854 469h1v2h-1zM8 492h1v1h-1zM447 492h1v1h-1zM460 492h1v1h-1zM78 475h1v2h-1zM228 476h1v1h-1zM395 476h1v1h-1zM542 476h1v4h-1zM637 475h1v2h-1zM660 476h1v2h-1zM777 476h1v1h-1zM807 476h1v1h-1zM850 476h1v1h-1zM875 476h1v1h-1zM23 488h1v1h-1zM25 488h1v1h-1zM135 487h1v2h-1zM154 487h1v2h-1zM159 488h1v1h-1zM161 488h1v1h-1zM292 488h1v1h-1zM335 488h1v1h-1zM353 488h1v1h-1zM371 487h1v2h-1zM443 488h1v1h-1zM532 488h1v1h-1zM710 488h1v1h-1zM762 485h1v4h-1zM64 485h1v1h-1zM111 485h1v2h-1zM156 485h1v1h-1zM188 485h1v1h-1zM212 485h1v1h-1zM274 484h1v2h-1zM294 485h1v2h-1zM311 484h1v2h-1zM313 485h1v1h-1zM332 485h1v1h-1zM441 485h1v1h-1zM481 485h1v1h-1zM505 485h1v1h-1zM534 484h1v2h-1zM675 485h1v1h-1zM677 485h1v1h-1zM691 484h1v2h-1zM84 475h1v1h-1zM92 475h1v1h-1zM543 473h1v3h-1zM579 475h1v1h-1zM659 473h1v3h-1zM778 475h1v1h-1zM811 475h1v1h-1zM851 474h1v2h-1zM874 475h1v1h-1zM88 471h1v1h-1zM591 471h1v1h-1zM606 471h1v2h-1zM639 471h1v2h-1zM658 471h1v2h-1zM783 471h1v1h-1zM801 471h1v1h-1zM853 471h1v2h-1zM864 471h1v1h-1zM80 472h1v1h-1zM87 472h1v1h-1zM89 472h1v1h-1zM544 472h1v1h-1zM575 472h1v1h-1zM590 472h1v1h-1zM802 472h1v1h-1zM865 472h1v1h-1zM38 482h1v1h-1zM61 482h1v1h-1zM66 481h1v2h-1zM109 481h1v2h-1zM174 482h1v1h-1zM186 482h1v1h-1zM214 482h1v2h-1zM219 482h1v1h-1zM221 482h1v1h-1zM250 482h1v1h-1zM254 482h1v1h-1zM272 482h1v1h-1zM309 481h1v2h-1zM315 482h1v1h-1zM328 482h1v1h-1zM424 482h1v1h-1zM483 482h1v1h-1zM535 482h1v2h-1zM541 480h1v3h-1zM663 481h1v2h-1zM689 481h1v2h-1zM763 481h1v4h-1zM833 481h1v2h-1zM9 490h1v2h-1zM133 490h1v2h-1zM152 490h1v1h-1zM355 490h1v1h-1zM369 490h1v2h-1zM445 490h1v1h-1zM462 490h1v1h-1zM147 491h1v1h-1zM446 491h1v1h-1zM461 491h1v1h-1zM37 483h1v2h-1zM63 484h1v1h-1zM65 483h1v2h-1zM110 483h1v2h-1zM173 483h1v2h-1zM187 483h1v2h-1zM211 484h1v1h-1zM213 484h1v1h-1zM252 484h1v1h-1zM295 484h1v1h-1zM314 483h1v2h-1zM331 484h1v1h-1zM375 484h1v1h-1zM440 484h1v1h-1zM482 483h1v2h-1zM504 484h1v1h-1zM540 484h1v1h-1zM678 484h1v1h-1zM832 484h1v1h-1zM39 480h1v2h-1zM55 480h1v1h-1zM67 479h1v2h-1zM175 480h1v2h-1zM185 480h1v2h-1zM216 480h1v1h-1zM223 480h1v1h-1zM231 480h1v2h-1zM248 480h1v1h-1zM270 479h1v2h-1zM308 480h1v1h-1zM392 480h1v1h-1zM422 479h1v2h-1zM427 480h1v1h-1zM662 480h1v1h-1zM764 480h1v1h-1zM834 479h1v2h-1zM215 481h1v1h-1zM222 481h1v1h-1zM249 481h1v1h-1zM255 481h1v1h-1zM271 481h1v1h-1zM300 481h1v1h-1zM423 481h1v1h-1zM536 481h1v1h-1zM62 483h1v1h-1zM191 483h1v1h-1zM220 483h1v1h-1zM251 483h1v1h-1zM253 483h1v1h-1zM273 483h1v1h-1zM310 483h1v1h-1zM387 483h1v1h-1zM439 483h1v1h-1zM679 483h1v1h-1zM690 483h1v1h-1zM11 486h1v2h-1zM21 486h1v1h-1zM27 486h1v1h-1zM155 486h1v1h-1zM157 486h1v1h-1zM163 486h1v1h-1zM275 486h1v1h-1zM312 486h1v1h-1zM333 486h1v1h-1zM372 486h1v1h-1zM442 486h1v2h-1zM506 486h1v1h-1zM533 486h1v2h-1zM676 486h1v1h-1zM709 486h1v2h-1zM103 479h1v1h-1zM184 479h1v1h-1zM224 479h1v1h-1zM230 479h1v1h-1zM263 479h1v1h-1zM303 479h1v1h-1zM393 479h1v1h-1zM661 478h1v2h-1zM823 479h1v1h-1zM848 479h1v1h-1zM79 473h1v2h-1zM86 473h1v1h-1zM90 473h1v1h-1zM576 473h1v1h-1zM589 473h1v1h-1zM607 473h1v1h-1zM638 473h1v2h-1zM780 473h1v1h-1zM803 473h1v1h-1zM852 473h1v1h-1zM866 473h1v1h-1zM872 473h1v1h-1zM571 468h1v2h-1zM593 469h1v1h-1zM604 469h1v1h-1zM649 469h1v1h-1zM731 494h1v1h-1zM754 494h1v1h-1zM760 493h1v2h-1zM52 478h1v1h-1zM77 477h1v2h-1zM229 477h1v2h-1zM269 478h1v1h-1zM394 477h1v2h-1zM421 478h1v1h-1zM835 477h1v2h-1zM847 478h1v1h-1zM849 477h1v2h-1zM22 487h1v1h-1zM26 487h1v1h-1zM158 487h1v1h-1zM162 487h1v1h-1zM293 487h1v1h-1zM334 487h1v1h-1zM507 487h1v1h-1zM531 487h1v1h-1zM719 495h1v1h-1zM755 495h1v1h-1zM95 477h1v1h-1zM227 477h1v1h-1zM636 477h1v1h-1zM808 477h1v1h-1zM820 477h1v1h-1zM876 477h1v1h-1zM459 493h1v1h-1zM716 493h1v1h-1zM753 493h1v1h-1zM562 465h1v2h-1zM570 466h1v2h-1zM595 466h1v1h-1zM602 466h1v2h-1zM856 466h1v1h-1zM560 468h1v1h-1zM594 467h1v2h-1zM603 468h1v1h-1zM650 468h1v1h-1zM855 467h1v2h-1zM859 468h1v1h-1zM83 474h1v1h-1zM85 474h1v1h-1zM91 474h1v1h-1zM779 474h1v1h-1zM804 474h1v1h-1zM867 474h1v1h-1zM873 474h1v1h-1zM569 464h1v2h-1zM601 465h1v1h-1zM561 467h1v1h-1zM651 467h1v1h-1zM656 467h1v1h-1zM563 464h1v1h-1z" fill="#1e90ff"/></g>
<g id="sig"><path d="M86 553h2v1h-2zM251 553h8v1h-8zM279 553h3v1h-3zM424 553h2v1h-2zM558 553h2v1h-2zM715 553h3v1h-3zM8 580h3v1h-3zM26 580h2v1h-2zM38 576h2v1h-2zM167 576h8v1h-8zM376 576h3v1h-3zM387 576h4v1h-4zM94 549h2v1h-2zM434 549h2v1h-2zM447 549h3v1h-3zM704 549h3v1h-3zM801 549h2v1h-2zM78 557h2v1h-2zM231 557h4v1h-4zM290 557h2v1h-2zM417 557h2v1h-2zM548 557h3v1h-3zM66 562h2v1h-2zM141 562h2v1h-2zM207 562h4v1h-4zM302 562h2v1h-2zM327 562h4v1h-4zM343 562h4v1h-4zM511 562h4v1h-4zM102 545h2v1h-2zM119 545h3v1h-3zM697 545h2v1h-2zM82 555h2v1h-2zM133 555h2v1h-2zM243 555h4v1h-4zM284 555h3v1h-3zM420 555h2v1h-2zM457 555h2v1h-2zM554 555h2v1h-2zM580 535h3v1h-3zM675 535h4v1h-4zM603 528h28v1h-28zM42 574h2v1h-2zM159 574h4v1h-4zM179 574h4v1h-4zM371 574h3v1h-3zM395 574h2v1h-2zM754 574h2v1h-2zM767 574h3v1h-3zM96 548h2v1h-2zM125 548h2v1h-2zM436 548h11v1h-11zM702 548h2v1h-2zM6 579h2v1h-2zM28 579h3v1h-3zM692 542h2v1h-2zM812 542h2v1h-2zM847 542h8v1h-8zM52 569h2v1h-2zM192 569h2v1h-2zM362 569h2v1h-2zM487 569h4v1h-4zM778 569h2v1h-2zM40 575h2v1h-2zM163 575h4v1h-4zM175 575h4v1h-4zM374 575h2v1h-2zM391 575h4v1h-4zM756 575h11v1h-11zM686 539h2v1h-2zM819 539h16v1h-16zM867 539h3v1h-3zM80 556h2v1h-2zM235 556h8v1h-8zM287 556h3v1h-3zM551 556h3v1h-3zM721 556h2v1h-2zM62 564h2v1h-2zM202 564h2v1h-2zM307 564h16v1h-16zM351 564h3v1h-3zM503 564h4v1h-4zM734 564h2v1h-2zM60 565h2v1h-2zM145 565h2v1h-2zM200 565h2v1h-2zM354 565h2v1h-2zM472 565h3v1h-3zM499 565h4v1h-4zM736 565h2v1h-2zM690 541h2v1h-2zM814 541h2v1h-2zM839 541h8v1h-8zM855 541h8v1h-8zM64 563h2v1h-2zM204 563h3v1h-3zM304 563h3v1h-3zM323 563h4v1h-4zM347 563h4v1h-4zM409 563h2v1h-2zM469 563h2v1h-2zM507 563h4v1h-4zM732 563h2v1h-2zM577 537h2v1h-2zM682 537h2v1h-2zM872 537h2v1h-2zM72 559h3v1h-3zM219 559h8v1h-8zM295 559h3v1h-3zM543 559h3v1h-3zM726 559h2v1h-2zM88 552h2v1h-2zM259 552h20v1h-20zM426 552h2v1h-2zM453 552h2v1h-2zM712 552h3v1h-3zM590 532h2v1h-2zM640 532h3v1h-3zM68 561h2v1h-2zM211 561h4v1h-4zM300 561h2v1h-2zM331 561h12v1h-12zM466 561h2v1h-2zM515 561h12v1h-12zM729 561h2v1h-2zM592 531h3v1h-3zM638 531h2v1h-2zM70 560h2v1h-2zM215 560h4v1h-4zM298 560h2v1h-2zM413 560h2v1h-2zM464 560h2v1h-2zM527 560h16v1h-16zM107 543h8v1h-8zM694 543h2v1h-2zM810 543h2v1h-2zM56 567h2v1h-2zM196 567h2v1h-2zM358 567h2v1h-2zM478 567h2v1h-2zM494 567h2v1h-2zM740 567h2v1h-2zM782 567h2v1h-2zM587 533h3v1h-3zM643 533h4v1h-4zM655 533h16v1h-16zM35 577h3v1h-3zM379 577h8v1h-8zM44 573h2v1h-2zM156 573h3v1h-3zM183 573h3v1h-3zM368 573h3v1h-3zM397 573h2v1h-2zM751 573h3v1h-3zM770 573h2v1h-2zM98 547h2v1h-2zM700 547h2v1h-2zM679 536h3v1h-3zM874 536h2v1h-2zM75 558h3v1h-3zM227 558h4v1h-4zM292 558h3v1h-3zM461 558h2v1h-2zM546 558h2v1h-2zM724 558h2v1h-2zM599 529h4v1h-4zM631 529h4v1h-4zM104 544h3v1h-3zM115 544h4v1h-4zM569 544h2v1h-2zM808 544h2v1h-2zM11 581h15v1h-15zM54 568h2v1h-2zM149 568h2v1h-2zM194 568h2v1h-2zM360 568h2v1h-2zM480 568h7v1h-7zM491 568h3v1h-3zM742 568h2v1h-2zM780 568h2v1h-2zM58 566h2v1h-2zM198 566h2v1h-2zM356 566h2v1h-2zM475 566h3v1h-3zM496 566h3v1h-3zM738 566h2v1h-2zM46 572h2v1h-2zM186 572h2v1h-2zM748 572h3v1h-3zM772 572h2v1h-2zM583 534h4v1h-4zM647 534h8v1h-8zM671 534h4v1h-4zM688 540h2v1h-2zM816 540h3v1h-3zM835 540h4v1h-4zM863 540h4v1h-4zM48 571h2v1h-2zM153 571h2v1h-2zM188 571h2v1h-2zM365 571h2v1h-2zM774 571h2v1h-2zM50 570h2v1h-2zM190 570h2v1h-2zM401 570h2v1h-2zM745 570h2v1h-2zM776 570h2v1h-2zM84 554h2v1h-2zM247 554h4v1h-4zM282 554h2v1h-2zM422 554h2v1h-2zM556 554h2v1h-2zM718 554h2v1h-2zM92 550h2v1h-2zM431 550h3v1h-3zM450 550h2v1h-2zM707 550h3v1h-3zM90 551h2v1h-2zM428 551h3v1h-3zM561 551h2v1h-2zM710 551h2v1h-2zM4 578h2v1h-2zM31 578h4v1h-4zM595 530h4v1h-4zM635 530h3v1h-3zM100 546h2v1h-2zM122 546h2v1h-2zM805 546h2v1h-2zM684 538h2v1h-2zM870 538h2v1h-2zM131 553h1v1h-1zM455 553h1v1h-1zM797 553h1v1h-1zM127 549h1v1h-1zM564 549h1v1h-1zM136 557h1v1h-1zM460 557h1v1h-1zM723 557h1v1h-1zM793 557h1v1h-1zM411 562h1v1h-1zM468 562h1v1h-1zM731 562h1v1h-1zM788 562h1v1h-1zM568 545h1v1h-1zM807 545h1v1h-1zM720 555h1v1h-1zM795 555h1v1h-1zM876 535h1v1h-1zM565 548h1v1h-1zM803 548h1v1h-1zM572 542h1v1h-1zM151 569h1v1h-1zM403 569h1v1h-1zM744 569h1v1h-1zM575 539h1v1h-1zM135 556h1v1h-1zM419 556h1v1h-1zM459 556h1v1h-1zM794 556h1v1h-1zM144 564h1v1h-1zM408 564h1v1h-1zM471 564h1v1h-1zM786 564h1v1h-1zM407 565h1v1h-1zM785 565h1v1h-1zM573 541h1v1h-1zM143 563h1v1h-1zM787 563h1v1h-1zM138 559h1v1h-1zM415 559h1v1h-1zM463 559h1v1h-1zM791 559h1v1h-1zM130 552h1v1h-1zM560 552h1v1h-1zM798 552h1v1h-1zM140 561h1v1h-1zM412 561h1v1h-1zM789 561h1v1h-1zM139 560h1v1h-1zM728 560h1v1h-1zM790 560h1v1h-1zM571 543h1v1h-1zM148 567h1v1h-1zM405 567h1v1h-1zM124 547h1v1h-1zM566 547h1v1h-1zM804 547h1v1h-1zM579 536h1v1h-1zM137 558h1v1h-1zM416 558h1v1h-1zM792 558h1v1h-1zM696 544h1v1h-1zM404 568h1v1h-1zM147 566h1v1h-1zM406 566h1v1h-1zM784 566h1v1h-1zM155 572h1v1h-1zM367 572h1v1h-1zM399 572h1v1h-1zM574 540h1v1h-1zM400 571h1v1h-1zM747 571h1v1h-1zM152 570h1v1h-1zM364 570h1v1h-1zM132 554h1v1h-1zM456 554h1v1h-1zM796 554h1v1h-1zM128 550h1v1h-1zM563 550h1v1h-1zM800 550h1v1h-1zM129 551h1v1h-1zM452 551h1v1h-1zM799 551h1v1h-1zM567 546h1v1h-1zM699 546h1v1h-1zM576 538h1v1h-1z" fill="#ff0000"/></g>
<rect x="3" y="31" width="1104" height="1" fill="#000"/><rect x="3" y="438" width="1104" height="1" fill="#000"/><rect x="3" y="31" width="1" height="408" fill="#000"/><rect x="1106" y="31" width="1" height="408" fill="#000"/>
<rect x="3" y="440" width="1104" height="1" fill="#000"/><rect x="3" y="517" width="1104" height="1" fill="#000"/><rect x="3" y="440" width="1" height="78" fill="#000"/><rect x="1106" y="440" width="1" height="78" fill="#000"/>
<rect x="3" y="519" width="1104" height="1" fill="#000"/><rect x="3" y="588" width="1104" height="1" fill="#000"/><rect x="3" y="519" width="1" height="70" fill="#000"/><rect x="1106" y="519" width="1" height="70" fill="#000"/>
<polygon points="7,38 14,38 10.5,42" fill="#000" shape-rendering="auto"/>
<rect x="1108" y="268" width="41" height="11" fill="#000"/>
<rect x="1107" y="272" width="1" height="1" fill="#000"/><rect x="1106" y="273" width="2" height="1" fill="#fff"/>
</svg>
<div class="abs" style="left:0;top:611px;width:1154px;height:1px;background:#000"></div>
<div class="abs" style="left:0;top:612px;width:1154px;height:19px;background:#f0f0f0"></div>
<div class="abs" style="left:0;top:612px;width:1px;height:18px;background:#696969"></div>
<div class="abs" style="left:109px;top:611px;width:103px;height:18px;background:#fff;border-left:1px solid #000;border-right:1px solid #000;border-bottom:1px solid #000;box-sizing:content-box"></div>
<div class="abs" style="left:110px;top:611px;width:103px;height:1px;background:#fff"></div>
<div class="abs" style="left:313px;top:615px;width:1px;height:13px;background:#8a8a8a"></div>
<div class="abs" style="left:417px;top:615px;width:1px;height:13px;background:#8a8a8a"></div>
<div class="abs" style="left:537px;top:615px;width:1px;height:13px;background:#8a8a8a"></div>
<div class="abs" style="left:625px;top:615px;width:1px;height:13px;background:#8a8a8a"></div>
<div class="abs" style="left:717px;top:615px;width:1px;height:13px;background:#8a8a8a"></div>
<svg class="abs" style="left:1115px;top:612px" width="36" height="18" viewBox="1115 612 36 18"><polygon points="1125.5,617 1125.5,624 1122,620.5" fill="#a0a0a0"/><polygon points="1141,617 1141,624 1144.5,620.5" fill="#a0a0a0"/></svg>
<div class="abs" style="left:1152px;top:612px;width:1px;height:19px;background:#e6e6e6"></div>
<div class="abs" style="left:1153px;top:612px;width:1px;height:19px;background:#fbfbfb"></div>
<div class="abs" style="left:0;top:631px;width:1154px;height:4px;background:#fcfcfc"></div>
<div class="abs" style="left:0;top:635px;width:1151px;height:1px;background:#a8a8a8"></div>
<div class="abs" style="left:0;top:636px;width:1154px;height:2px;background:#f7f7f7"></div>
<div class="abs" style="left:50px;top:636px;width:1px;height:2px;background:#dcdcdc"></div>
<div class="abs" style="left:134px;top:636px;width:1px;height:2px;background:#dcdcdc"></div>
<div class="abs" style="left:242px;top:636px;width:1px;height:2px;background:#dcdcdc"></div>
<div class="abs" style="left:362px;top:636px;width:1px;height:2px;background:#dcdcdc"></div>
<div class="abs" style="left:482px;top:636px;width:1px;height:2px;background:#dcdcdc"></div>
<div class="abs" style="left:602px;top:636px;width:1px;height:2px;background:#dcdcdc"></div>
<div class="abs" style="left:722px;top:636px;width:1px;height:2px;background:#dcdcdc"></div>
<div class="abs" style="left:842px;top:636px;width:1px;height:2px;background:#dcdcdc"></div>
<div class="abs" style="left:962px;top:636px;width:1px;height:2px;background:#dcdcdc"></div>
<svg class="abs" style="left:0;top:0;font-family:'Liberation Sans',sans-serif;text-rendering:geometricPrecision" width="1154" height="638" viewBox="0 0 1154 638"><text transform="translate(19.4,43) scale(1,1)" font-size="10" fill="#000" textLength="66.0" lengthAdjust="spacingAndGlyphs" >AUDUSD,Daily</text><text transform="translate(90.4,43) scale(1,1)" font-size="10" fill="#000" textLength="33.2" lengthAdjust="spacingAndGlyphs" >0.72340</text><text transform="translate(126.7,43) scale(1,1)" font-size="10" fill="#000" textLength="33.2" lengthAdjust="spacingAndGlyphs" >0.72446</text><text transform="translate(163.0,43) scale(1,1)" font-size="10" fill="#000" textLength="33.2" lengthAdjust="spacingAndGlyphs" >0.71692</text><text transform="translate(199.3,43) scale(1,1)" font-size="10" fill="#000" textLength="33.2" lengthAdjust="spacingAndGlyphs" >0.71800</text><text transform="translate(1111.4,43) scale(1,1)" font-size="10" fill="#000" textLength="34.5" lengthAdjust="spacingAndGlyphs" >0.77040</text><text transform="translate(1111.4,76) scale(1,1)" font-size="10" fill="#000" textLength="34.5" lengthAdjust="spacingAndGlyphs" >0.76300</text><text transform="translate(1111.4,109) scale(1,1)" font-size="10" fill="#000" textLength="34.5" lengthAdjust="spacingAndGlyphs" >0.75560</text><text transform="translate(1111.4,142) scale(1,1)" font-size="10" fill="#000" textLength="34.5" lengthAdjust="spacingAndGlyphs" >0.74820</text><text transform="translate(1111.4,175) scale(1,1)" font-size="10" fill="#000" textLength="34.5" lengthAdjust="spacingAndGlyphs" >0.74080</text><text transform="translate(1111.4,208) scale(1,1)" font-size="10" fill="#000" textLength="34.5" lengthAdjust="spacingAndGlyphs" >0.73340</text><text transform="translate(1111.4,241) scale(1,1)" font-size="10" fill="#000" textLength="34.5" lengthAdjust="spacingAndGlyphs" >0.72600</text><text transform="translate(1111.4,307) scale(1,1)" font-size="10" fill="#000" textLength="34.5" lengthAdjust="spacingAndGlyphs" >0.71120</text><text transform="translate(1111.4,340) scale(1,1)" font-size="10" fill="#000" textLength="34.5" lengthAdjust="spacingAndGlyphs" >0.70380</text><text transform="translate(1111.4,373) scale(1,1)" font-size="10" fill="#000" textLength="34.5" lengthAdjust="spacingAndGlyphs" >0.69640</text><text transform="translate(1111.4,406) scale(1,1)" font-size="10" fill="#000" textLength="34.5" lengthAdjust="spacingAndGlyphs" >0.68900</text><text transform="translate(1111.4,439) scale(1,1)" font-size="10" fill="#000" textLength="34.5" lengthAdjust="spacingAndGlyphs" >0.68160</text><text transform="translate(1111.8,277) scale(1,1)" font-size="10" fill="#fff" textLength="33.6" lengthAdjust="spacingAndGlyphs" >0.71800</text><text transform="translate(1110.5,451) scale(1,1)" font-size="10" fill="#000" textLength="15.7" lengthAdjust="spacingAndGlyphs" >100</text><text transform="translate(1108.5,468) scale(1,1)" font-size="10" fill="#000" textLength="10.5" lengthAdjust="spacingAndGlyphs" >70</text><text transform="translate(1108.5,498) scale(1,1)" font-size="10" fill="#000" textLength="10.5" lengthAdjust="spacingAndGlyphs" >30</text><text transform="translate(1109.5,514) scale(1,1)" font-size="10" fill="#000" textLength="5.2" lengthAdjust="spacingAndGlyphs" >0</text><text transform="translate(1109.4,530) scale(1,1)" font-size="10" fill="#000" textLength="39.5" lengthAdjust="spacingAndGlyphs" >0.004583</text><text transform="translate(1109.5,550) scale(1,1)" font-size="10" fill="#000" textLength="18.3" lengthAdjust="spacingAndGlyphs" >0.00</text><text transform="translate(1109.4,585) scale(1,1)" font-size="10" fill="#000" textLength="42.0" lengthAdjust="spacingAndGlyphs" >-0.007292</text><text transform="translate(7.4,453) scale(1,1)" font-size="10" fill="#000" textLength="70.0" lengthAdjust="spacingAndGlyphs" >RSI(14) 49.8331</text><text transform="translate(7.9,532) scale(1,1)" font-size="10" fill="#000" textLength="149.0" lengthAdjust="spacingAndGlyphs" >MACD(12,26,9) 0.002146 0.001749</text><text transform="translate(2.9,601) scale(1,1)" font-size="10" fill="#000" textLength="50.5" lengthAdjust="spacingAndGlyphs" >8 May 2018</text><text transform="translate(66.9,601) scale(1,1)" font-size="10" fill="#000" textLength="54.5" lengthAdjust="spacingAndGlyphs" >30 May 2018</text><text transform="translate(130.9,601) scale(1,1)" font-size="10" fill="#000" textLength="49.5" lengthAdjust="spacingAndGlyphs" >21 Jun 2018</text><text transform="translate(194.9,601) scale(1,1)" font-size="10" fill="#000" textLength="48.5" lengthAdjust="spacingAndGlyphs" >13 Jul 2018</text><text transform="translate(258.9,601) scale(1,1)" font-size="10" fill="#000" textLength="48.5" lengthAdjust="spacingAndGlyphs" >6 Aug 2018</text><text transform="translate(322.9,601) scale(1,1)" font-size="10" fill="#000" textLength="52.5" lengthAdjust="spacingAndGlyphs" >28 Aug 2018</text><text transform="translate(386.9,601) scale(1,1)" font-size="10" fill="#000" textLength="51.5" lengthAdjust="spacingAndGlyphs" >17 Sep 2018</text><text transform="translate(450.9,601) scale(1,1)" font-size="10" fill="#000" textLength="45.5" lengthAdjust="spacingAndGlyphs" >5 Oct 2018</text><text transform="translate(514.9,601) scale(1,1)" font-size="10" fill="#000" textLength="50.5" lengthAdjust="spacingAndGlyphs" >24 Oct 2018</text><text transform="translate(578.9,601) scale(1,1)" font-size="10" fill="#000" textLength="53.5" lengthAdjust="spacingAndGlyphs" >12 Nov 2018</text><text transform="translate(642.9,601) scale(1,1)" font-size="10" fill="#000" textLength="53.5" lengthAdjust="spacingAndGlyphs" >30 Nov 2018</text><text transform="translate(706.9,601) scale(1,1)" font-size="10" fill="#000" textLength="51.5" lengthAdjust="spacingAndGlyphs" >19 Dec 2018</text><text transform="translate(770.9,601) scale(1,1)" font-size="10" fill="#000" textLength="45.5" lengthAdjust="spacingAndGlyphs" >7 Jan 2019</text><text transform="translate(834.9,601) scale(1,1)" font-size="10" fill="#000" textLength="50.0" lengthAdjust="spacingAndGlyphs" >25 Jan 2019</text><text transform="translate(16.6,626) scale(1,1)" font-size="12" fill="#6e6e6e" textLength="81.0" lengthAdjust="spacingAndGlyphs" >EURUSD,Daily</text><text transform="translate(119.4,626) scale(1,1)" font-size="12" fill="#000" textLength="83.5" lengthAdjust="spacingAndGlyphs" >AUDUSD,Daily</text><text transform="translate(222.8,626) scale(1,1)" font-size="12" fill="#6e6e6e" textLength="79.6" lengthAdjust="spacingAndGlyphs" >USDCHF,Daily</text><text transform="translate(323.8,626) scale(1,1)" font-size="12" fill="#6e6e6e" textLength="81.6" lengthAdjust="spacingAndGlyphs" >USDCAD,Daily</text><text transform="translate(427.8,626) scale(1,1)" font-size="12" fill="#6e6e6e" textLength="97.6" lengthAdjust="spacingAndGlyphs" >USDCNH,Weekly</text><text transform="translate(546.7,626) scale(1,1)" font-size="12" fill="#6e6e6e" textLength="67.6" lengthAdjust="spacingAndGlyphs" >EURGBP,H1</text><text transform="translate(635.9,626) scale(1,1)" font-size="12" fill="#6e6e6e" textLength="69.9" lengthAdjust="spacingAndGlyphs" >NZDUSD,H1</text></svg>
<div class="abs" style="left:0;top:0;width:130px;height:27px;filter:grayscale(1)"><svg style="display:block;font-family:'Liberation Sans',sans-serif;text-rendering:geometricPrecision" width="130" height="27" viewBox="0 0 130 27"><text transform="translate(13.2,19) scale(1,1)" font-size="9.5" fill="#383838" textLength="13.1" lengthAdjust="spacingAndGlyphs" >H4</text><text transform="translate(42.4,19) scale(1,1)" font-size="9.5" fill="#383838" textLength="13.1" lengthAdjust="spacingAndGlyphs" >D1</text><text transform="translate(69.7,19) scale(1,1)" font-size="9.5" fill="#383838" textLength="15.4" lengthAdjust="spacingAndGlyphs" >W1</text><text transform="translate(96.2,19) scale(1,1)" font-size="9.5" fill="#383838" textLength="16.0" lengthAdjust="spacingAndGlyphs" >MN</text></svg></div>
</body></html>
